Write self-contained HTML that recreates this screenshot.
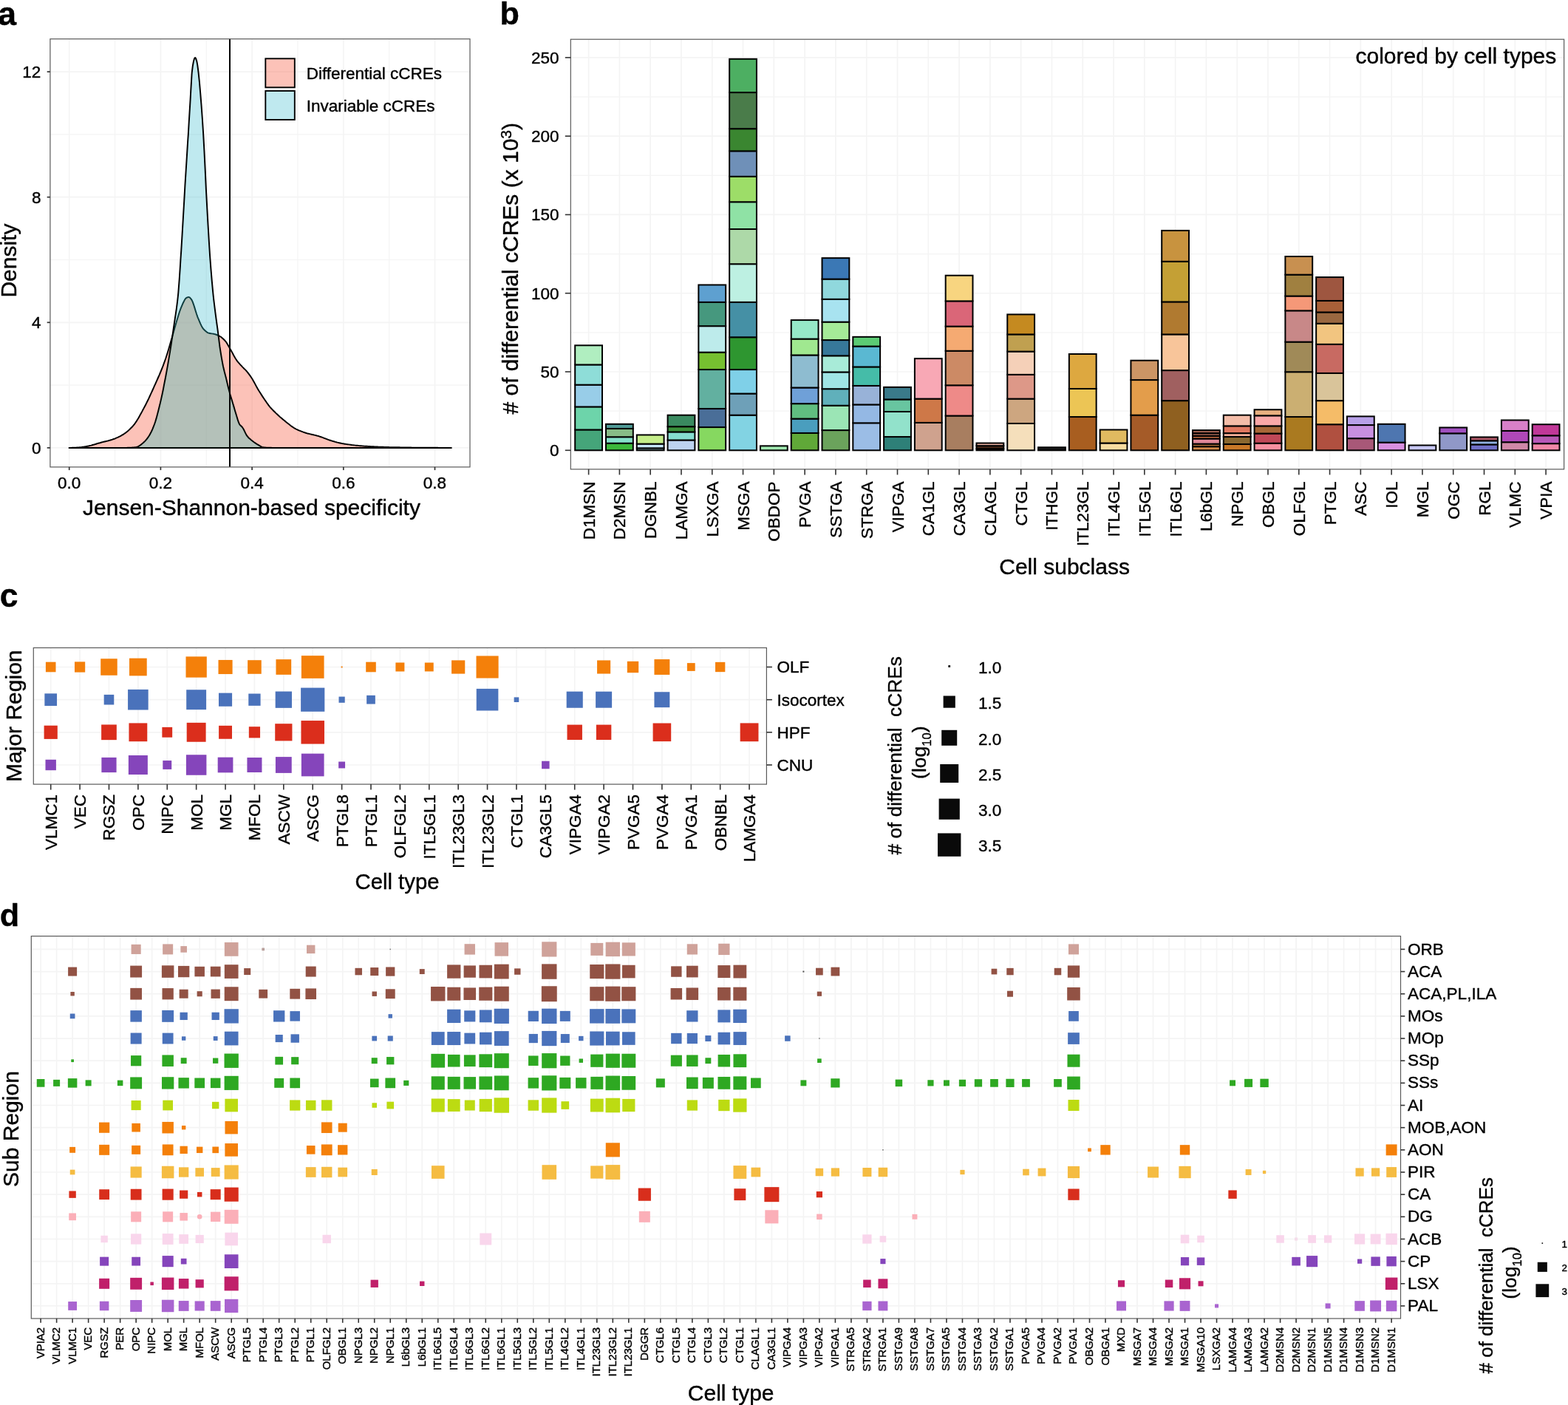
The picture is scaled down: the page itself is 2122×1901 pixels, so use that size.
<!DOCTYPE html>
<html lang="en"><head><meta charset="utf-8"><title>Differential cCREs figure</title>
<style>
html,body{margin:0;padding:0;background:#fff;}
body{width:2122px;height:1901px;overflow:hidden;}
svg{display:block;font-family:"Liberation Sans", sans-serif;}
svg text{stroke:#000;stroke-width:.4px;stroke-linejoin:round;}
</style></head>
<body>
<svg width="2122" height="1901" viewBox="0 0 2122 1901">
<rect width="2122" height="1901" fill="#fff"/>
<g id="panel-a">
<text x="-2.80" y="33.90" font-size="44.6" font-weight="bold" stroke="none">a</text>
<rect x="67.90" y="52.70" width="568.10" height="579.20" fill="#fff"/>
<line x1="93.70" y1="52.70" x2="93.70" y2="631.90" stroke="#f4f4f4" stroke-width="1.7"/>
<line x1="155.55" y1="52.70" x2="155.55" y2="631.90" stroke="#f4f4f4" stroke-width="1.2"/>
<line x1="217.40" y1="52.70" x2="217.40" y2="631.90" stroke="#f4f4f4" stroke-width="1.7"/>
<line x1="279.25" y1="52.70" x2="279.25" y2="631.90" stroke="#f4f4f4" stroke-width="1.2"/>
<line x1="341.10" y1="52.70" x2="341.10" y2="631.90" stroke="#f4f4f4" stroke-width="1.7"/>
<line x1="402.95" y1="52.70" x2="402.95" y2="631.90" stroke="#f4f4f4" stroke-width="1.2"/>
<line x1="464.80" y1="52.70" x2="464.80" y2="631.90" stroke="#f4f4f4" stroke-width="1.7"/>
<line x1="526.65" y1="52.70" x2="526.65" y2="631.90" stroke="#f4f4f4" stroke-width="1.2"/>
<line x1="588.50" y1="52.70" x2="588.50" y2="631.90" stroke="#f4f4f4" stroke-width="1.7"/>
<line x1="67.90" y1="605.90" x2="636.00" y2="605.90" stroke="#f4f4f4" stroke-width="1.7"/>
<line x1="67.90" y1="521.10" x2="636.00" y2="521.10" stroke="#f4f4f4" stroke-width="1.2"/>
<line x1="67.90" y1="436.30" x2="636.00" y2="436.30" stroke="#f4f4f4" stroke-width="1.7"/>
<line x1="67.90" y1="351.50" x2="636.00" y2="351.50" stroke="#f4f4f4" stroke-width="1.2"/>
<line x1="67.90" y1="266.70" x2="636.00" y2="266.70" stroke="#f4f4f4" stroke-width="1.7"/>
<line x1="67.90" y1="181.90" x2="636.00" y2="181.90" stroke="#f4f4f4" stroke-width="1.2"/>
<line x1="67.90" y1="97.10" x2="636.00" y2="97.10" stroke="#f4f4f4" stroke-width="1.7"/>
<path d="M93.7 605.9 L95.0 605.9 L96.3 605.9 L97.6 605.8 L98.9 605.8 L100.2 605.7 L101.5 605.7 L102.8 605.6 L104.1 605.5 L105.4 605.4 L106.1 605.4 L106.7 605.4 L107.9 605.2 L109.2 605.1 L110.5 605.0 L111.8 604.8 L113.1 604.6 L114.4 604.4 L115.7 604.2 L117.0 604.0 L118.0 603.8 L118.3 603.7 L119.6 603.5 L120.9 603.2 L122.2 602.9 L123.5 602.6 L124.8 602.2 L126.1 601.8 L127.4 601.5 L128.7 601.1 L130.0 600.7 L131.3 600.3 L132.6 599.9 L133.9 599.5 L135.2 599.2 L136.4 598.8 L137.7 598.5 L137.8 598.4 L139.0 598.1 L140.3 597.8 L141.6 597.5 L142.9 597.2 L144.2 596.9 L145.5 596.6 L146.8 596.3 L148.1 595.9 L149.4 595.5 L150.2 595.3 L150.7 595.1 L152.0 594.7 L153.3 594.2 L154.6 593.8 L155.9 593.3 L157.2 592.7 L158.5 592.2 L159.8 591.6 L161.1 590.9 L162.4 590.3 L163.7 589.6 L164.8 588.9 L164.9 588.9 L166.2 588.1 L167.5 587.3 L168.8 586.4 L170.1 585.4 L171.4 584.4 L172.7 583.4 L174.0 582.3 L175.3 581.1 L176.6 579.8 L177.9 578.5 L179.2 577.2 L179.7 576.6 L180.5 575.7 L181.8 574.1 L183.1 572.3 L184.4 570.4 L185.7 568.3 L187.0 566.2 L188.3 563.9 L189.6 561.6 L190.9 559.3 L192.2 556.9 L193.4 554.5 L194.3 552.9 L194.7 552.1 L196.0 549.7 L197.3 547.2 L198.6 544.6 L199.9 542.0 L201.2 539.3 L202.5 536.5 L203.8 533.7 L205.1 530.9 L206.4 528.0 L207.7 525.1 L209.0 522.2 L209.1 521.9 L210.3 519.3 L211.6 516.4 L212.9 513.5 L214.2 510.5 L215.5 507.6 L216.8 504.5 L218.1 501.4 L219.4 498.2 L220.7 494.9 L221.9 491.5 L223.2 488.0 L223.8 486.3 L224.5 484.3 L225.8 480.3 L227.1 476.1 L228.4 471.8 L229.7 467.3 L231.0 462.8 L232.3 458.3 L232.7 457.1 L233.6 453.8 L234.9 449.2 L236.2 444.5 L237.5 439.9 L238.6 436.3 L238.8 435.5 L240.1 431.2 L241.4 427.0 L242.7 422.8 L244.0 419.0 L245.3 415.6 L245.9 414.3 L246.6 412.7 L247.9 409.7 L249.2 407.1 L250.4 404.9 L251.7 403.4 L252.0 403.2 L253.0 402.7 L254.3 402.1 L255.5 402.0 L255.6 402.0 L256.9 402.7 L258.2 404.1 L258.8 404.9 L259.5 405.9 L260.8 408.7 L262.1 412.3 L263.4 416.4 L264.7 420.7 L266.0 424.8 L267.3 428.6 L268.0 430.4 L268.6 431.7 L269.9 434.8 L271.2 437.8 L272.5 440.6 L273.8 443.0 L275.1 444.9 L275.4 445.2 L276.4 446.3 L277.7 447.5 L278.9 448.6 L280.2 449.6 L281.5 450.3 L282.7 450.7 L282.8 450.7 L284.1 451.0 L285.4 451.3 L286.7 451.4 L288.0 451.6 L289.3 451.8 L290.1 452.0 L290.6 452.1 L291.9 452.5 L293.2 453.0 L294.5 453.5 L295.8 454.1 L297.1 454.8 L297.4 455.0 L298.4 455.5 L299.7 456.4 L301.0 457.5 L302.3 458.7 L303.6 460.0 L304.8 461.3 L304.9 461.4 L306.2 463.0 L307.4 465.0 L308.7 467.2 L310.0 469.5 L311.3 471.8 L312.2 473.2 L312.6 474.0 L313.9 476.4 L315.2 478.8 L316.5 481.3 L317.8 483.6 L319.1 485.7 L319.5 486.3 L320.4 487.6 L321.7 489.3 L323.0 490.9 L324.3 492.4 L325.6 493.8 L326.9 495.2 L326.9 495.2 L328.2 496.6 L329.5 497.9 L330.8 499.2 L332.1 500.4 L333.4 501.8 L334.3 502.9 L334.7 503.3 L335.9 504.9 L337.2 506.6 L338.5 508.4 L339.8 510.3 L341.1 512.3 L341.6 513.0 L342.4 514.4 L343.7 516.7 L345.0 519.1 L346.3 521.6 L347.6 524.0 L348.9 526.3 L349.0 526.4 L350.2 528.5 L351.5 530.5 L352.8 532.6 L354.1 534.6 L355.4 536.6 L356.4 538.1 L356.7 538.5 L358.0 540.5 L359.3 542.4 L360.6 544.3 L361.9 546.2 L363.2 547.9 L363.7 548.7 L364.4 549.5 L365.7 551.1 L367.0 552.5 L368.3 553.9 L369.6 555.2 L370.9 556.5 L371.1 556.7 L372.2 557.8 L373.5 559.1 L374.8 560.3 L376.1 561.5 L377.4 562.7 L378.7 563.9 L380.0 565.0 L381.3 566.1 L382.6 567.2 L383.9 568.3 L385.2 569.3 L385.8 569.9 L386.5 570.4 L387.8 571.4 L389.1 572.5 L390.4 573.5 L391.7 574.5 L392.9 575.5 L394.2 576.5 L395.5 577.4 L396.8 578.3 L398.1 579.2 L399.4 579.9 L400.5 580.5 L400.7 580.6 L402.0 581.2 L403.3 581.8 L404.6 582.4 L405.9 582.9 L407.2 583.4 L408.5 583.9 L409.8 584.4 L411.1 584.8 L412.4 585.3 L413.7 585.7 L415.0 586.1 L415.3 586.2 L416.3 586.5 L417.6 586.8 L418.9 587.1 L420.2 587.4 L421.4 587.7 L422.7 588.0 L424.0 588.3 L425.3 588.6 L426.6 588.9 L427.9 589.2 L429.2 589.6 L430.0 589.8 L430.5 589.9 L431.8 590.3 L433.1 590.8 L434.4 591.2 L435.7 591.7 L437.0 592.2 L438.3 592.7 L439.6 593.1 L440.9 593.6 L442.2 594.1 L443.5 594.6 L444.8 595.1 L446.1 595.5 L447.4 596.0 L448.7 596.4 L449.3 596.6 L449.9 596.7 L451.2 597.1 L452.5 597.5 L453.8 597.9 L455.1 598.2 L456.4 598.6 L457.7 598.9 L459.0 599.2 L460.3 599.5 L461.6 599.8 L462.9 600.1 L464.2 600.3 L464.8 600.4 L465.5 600.5 L466.8 600.7 L468.1 600.9 L469.4 601.1 L470.7 601.3 L472.0 601.4 L473.3 601.6 L474.6 601.8 L475.9 602.0 L477.2 602.1 L478.4 602.3 L479.7 602.4 L481.0 602.6 L482.3 602.7 L483.6 602.8 L484.9 602.9 L486.2 603.1 L487.5 603.2 L488.8 603.3 L490.1 603.4 L491.4 603.5 L492.7 603.6 L494.0 603.7 L495.3 603.8 L495.7 603.8 L496.6 603.8 L497.9 603.9 L499.2 604.0 L500.5 604.0 L501.8 604.1 L503.1 604.2 L504.4 604.2 L505.6 604.3 L506.9 604.4 L508.2 604.4 L509.5 604.5 L510.8 604.5 L512.1 604.6 L513.4 604.6 L514.7 604.7 L516.0 604.7 L517.3 604.8 L518.6 604.8 L519.9 604.9 L521.2 604.9 L522.5 604.9 L523.8 605.0 L525.1 605.0 L526.4 605.0 L526.6 605.1 L527.7 605.1 L529.0 605.1 L530.3 605.1 L531.6 605.2 L532.9 605.2 L534.1 605.2 L535.4 605.2 L536.7 605.3 L538.0 605.3 L539.3 605.3 L540.6 605.3 L541.9 605.4 L543.2 605.4 L544.5 605.4 L545.8 605.4 L547.1 605.4 L548.4 605.5 L549.7 605.5 L551.0 605.5 L552.3 605.5 L553.6 605.5 L554.9 605.5 L556.2 605.5 L557.5 605.6 L557.6 605.6 L558.8 605.6 L560.1 605.6 L561.4 605.6 L562.6 605.6 L563.9 605.6 L565.2 605.6 L566.5 605.6 L567.8 605.7 L569.1 605.7 L570.4 605.7 L571.7 605.7 L573.0 605.7 L574.3 605.7 L575.6 605.7 L576.9 605.7 L578.2 605.7 L579.5 605.8 L580.8 605.8 L582.1 605.8 L583.4 605.8 L584.7 605.8 L586.0 605.8 L587.3 605.8 L588.6 605.8 L589.9 605.8 L591.1 605.8 L592.4 605.8 L593.7 605.9 L595.0 605.9 L596.3 605.9 L597.6 605.9 L598.9 605.9 L600.2 605.9 L601.5 605.9 L602.8 605.9 L604.1 605.9 L605.4 605.9 L606.7 605.9 L608.0 605.9 L609.3 605.9 L610.6 605.9 Z" fill="#f76e55" fill-opacity="0.42" stroke="#000" stroke-width="1.95" stroke-linejoin="round"/>
<path d="M93.7 605.9 L95.0 605.9 L96.3 605.9 L97.6 605.9 L98.9 605.9 L100.2 605.9 L101.5 605.9 L102.8 605.9 L104.1 605.9 L105.4 605.9 L106.7 605.9 L107.9 605.9 L109.2 605.9 L110.5 605.9 L111.8 605.9 L113.1 605.9 L114.4 605.9 L115.7 605.9 L117.0 605.9 L118.3 605.9 L119.6 605.9 L120.9 605.9 L122.2 605.9 L123.5 605.9 L124.8 605.9 L126.1 605.9 L127.4 605.9 L128.7 605.9 L130.0 605.9 L131.3 605.9 L132.6 605.9 L133.9 605.9 L135.2 605.9 L136.4 605.9 L137.7 605.9 L139.0 605.9 L140.3 605.9 L141.6 605.9 L142.9 605.9 L144.2 605.9 L145.5 605.9 L146.8 605.9 L148.1 605.9 L149.4 605.9 L150.7 605.9 L152.0 605.9 L153.3 605.9 L154.6 605.9 L155.9 605.9 L157.2 605.9 L158.5 605.9 L159.8 605.9 L161.1 605.9 L162.4 605.9 L163.7 605.9 L164.9 605.9 L166.2 605.9 L167.5 605.9 L167.9 605.9 L168.8 605.9 L170.1 605.9 L171.4 605.9 L172.7 605.8 L174.0 605.8 L175.3 605.7 L176.6 605.6 L177.9 605.6 L179.2 605.5 L180.5 605.4 L181.8 605.3 L183.1 605.1 L184.0 605.1 L184.4 605.0 L185.7 604.7 L187.0 604.1 L188.3 603.4 L189.6 602.5 L190.9 601.6 L192.2 600.5 L193.4 599.4 L194.3 598.7 L194.7 598.3 L196.0 597.1 L197.3 595.7 L198.6 594.1 L199.9 592.4 L201.2 590.5 L201.7 589.8 L202.5 588.4 L203.8 586.1 L205.1 583.5 L206.4 580.6 L207.7 577.4 L209.0 574.0 L209.1 573.7 L210.3 570.2 L211.6 565.9 L212.9 561.1 L214.2 556.1 L215.5 550.8 L216.4 547.0 L216.8 545.5 L218.1 539.9 L219.4 534.0 L220.7 527.8 L221.9 521.4 L223.2 514.8 L223.8 511.8 L224.5 508.0 L225.8 500.9 L227.1 493.6 L228.4 485.9 L229.7 478.1 L231.0 470.1 L231.2 468.9 L232.3 461.7 L233.6 453.0 L234.9 444.0 L235.6 439.3 L236.2 435.1 L237.5 426.6 L238.8 417.8 L240.1 407.7 L240.9 400.3 L241.4 395.2 L242.7 378.1 L244.0 358.5 L244.4 351.5 L245.3 338.4 L246.6 316.8 L247.9 294.4 L249.2 272.2 L249.6 265.4 L250.4 251.0 L251.7 230.2 L253.0 209.6 L254.3 188.8 L254.8 181.9 L255.6 167.6 L256.9 146.1 L257.6 134.8 L258.2 123.6 L259.5 101.2 L259.8 97.5 L260.8 89.4 L261.7 84.4 L262.1 82.4 L263.0 79.3 L263.4 78.7 L264.1 78.0 L264.7 78.5 L265.1 79.3 L266.0 81.8 L266.6 84.4 L267.3 88.4 L268.5 97.5 L268.6 98.3 L269.9 111.0 L271.2 126.0 L271.9 134.8 L272.5 142.2 L273.8 160.2 L275.1 180.2 L275.2 181.9 L276.4 203.6 L277.7 230.0 L278.9 256.2 L279.4 265.4 L280.2 280.2 L281.5 303.7 L282.8 326.0 L284.1 346.2 L284.5 351.5 L285.4 363.6 L286.7 379.3 L288.0 393.4 L288.7 400.3 L289.3 405.8 L290.6 416.5 L291.6 424.4 L291.9 426.6 L293.2 436.3 L294.5 445.7 L295.2 451.1 L295.8 455.8 L297.1 466.4 L297.4 468.9 L298.4 475.3 L299.7 483.3 L301.0 490.6 L301.9 495.2 L302.3 497.0 L303.6 502.5 L304.9 507.5 L306.2 512.5 L306.3 513.0 L307.4 517.9 L308.7 523.3 L310.0 528.5 L310.7 530.9 L311.3 533.2 L312.6 537.6 L313.9 541.8 L315.1 545.7 L315.2 546.0 L316.5 550.4 L317.8 554.9 L319.1 559.2 L319.5 560.5 L320.4 563.5 L321.7 567.9 L323.0 571.7 L323.9 573.7 L324.3 574.3 L325.6 575.8 L326.9 577.0 L328.2 578.4 L328.4 578.8 L329.5 580.5 L330.8 583.1 L332.1 585.9 L333.4 588.4 L334.3 589.8 L334.7 590.2 L335.9 591.7 L337.2 593.0 L338.5 594.1 L339.8 595.2 L341.1 596.2 L341.6 596.6 L342.4 597.2 L343.7 598.2 L345.0 599.1 L346.3 600.0 L347.6 600.9 L348.9 601.6 L349.0 601.7 L350.2 602.4 L351.5 603.2 L352.8 604.0 L354.1 604.6 L355.4 605.1 L356.4 605.3 L356.7 605.3 L358.0 605.4 L359.3 605.5 L360.6 605.6 L361.9 605.6 L363.2 605.7 L364.4 605.8 L365.7 605.8 L367.0 605.8 L368.3 605.9 L369.6 605.9 L370.9 605.9 L372.0 605.9 L372.2 605.9 L373.5 605.9 L374.8 605.9 L376.1 605.9 L377.4 605.9 L378.7 605.9 L380.0 605.9 L381.3 605.9 L382.6 605.9 L383.9 605.9 L385.2 605.9 L386.5 605.9 L387.8 605.9 L389.1 605.9 L390.4 605.9 L391.7 605.9 L392.9 605.9 L394.2 605.9 L395.5 605.9 L396.8 605.9 L398.1 605.9 L399.4 605.9 L400.7 605.9 L402.0 605.9 L403.3 605.9 L404.6 605.9 L405.9 605.9 L407.2 605.9 L408.5 605.9 L409.8 605.9 L411.1 605.9 L412.4 605.9 L413.7 605.9 L415.0 605.9 L416.3 605.9 L417.6 605.9 L418.9 605.9 L420.2 605.9 L421.4 605.9 L422.7 605.9 L424.0 605.9 L425.3 605.9 L426.6 605.9 L427.9 605.9 L429.2 605.9 L430.5 605.9 L431.8 605.9 L433.1 605.9 L434.4 605.9 L435.7 605.9 L437.0 605.9 L438.3 605.9 L439.6 605.9 L440.9 605.9 L442.2 605.9 L443.5 605.9 L444.8 605.9 L446.1 605.9 L447.4 605.9 L448.7 605.9 L449.9 605.9 L451.2 605.9 L452.5 605.9 L453.8 605.9 L455.1 605.9 L456.4 605.9 L457.7 605.9 L459.0 605.9 L460.3 605.9 L461.6 605.9 L462.9 605.9 L464.2 605.9 L465.5 605.9 L466.8 605.9 L468.1 605.9 L469.4 605.9 L470.7 605.9 L472.0 605.9 L473.3 605.9 L474.6 605.9 L475.9 605.9 L477.2 605.9 L478.4 605.9 L479.7 605.9 L481.0 605.9 L482.3 605.9 L483.6 605.9 L484.9 605.9 L486.2 605.9 L487.5 605.9 L488.8 605.9 L490.1 605.9 L491.4 605.9 L492.7 605.9 L494.0 605.9 L495.3 605.9 L496.6 605.9 L497.9 605.9 L499.2 605.9 L500.5 605.9 L501.8 605.9 L503.1 605.9 L504.4 605.9 L505.6 605.9 L506.9 605.9 L508.2 605.9 L509.5 605.9 L510.8 605.9 L512.1 605.9 L513.4 605.9 L514.7 605.9 L516.0 605.9 L517.3 605.9 L518.6 605.9 L519.9 605.9 L521.2 605.9 L522.5 605.9 L523.8 605.9 L525.1 605.9 L526.4 605.9 L527.7 605.9 L529.0 605.9 L530.3 605.9 L531.6 605.9 L532.9 605.9 L534.1 605.9 L535.4 605.9 L536.7 605.9 L538.0 605.9 L539.3 605.9 L540.6 605.9 L541.9 605.9 L543.2 605.9 L544.5 605.9 L545.8 605.9 L547.1 605.9 L548.4 605.9 L549.7 605.9 L551.0 605.9 L552.3 605.9 L553.6 605.9 L554.9 605.9 L556.2 605.9 L557.5 605.9 L558.8 605.9 L560.1 605.9 L561.4 605.9 L562.6 605.9 L563.9 605.9 L565.2 605.9 L566.5 605.9 L567.8 605.9 L569.1 605.9 L570.4 605.9 L571.7 605.9 L573.0 605.9 L574.3 605.9 L575.6 605.9 L576.9 605.9 L578.2 605.9 L579.5 605.9 L580.8 605.9 L582.1 605.9 L583.4 605.9 L584.7 605.9 L586.0 605.9 L587.3 605.9 L588.6 605.9 L589.9 605.9 L591.1 605.9 L592.4 605.9 L593.7 605.9 L595.0 605.9 L596.3 605.9 L597.6 605.9 L598.9 605.9 L600.2 605.9 L601.5 605.9 L602.8 605.9 L604.1 605.9 L605.4 605.9 L606.7 605.9 L608.0 605.9 L609.3 605.9 L610.6 605.9 Z" fill="#30b8cc" fill-opacity="0.31" stroke="#000" stroke-width="1.95" stroke-linejoin="round"/>
<path d="M167.9 605.9 L168.3 605.9 L168.8 605.9 L169.2 605.9 L169.6 605.9 L170.0 605.9 L170.4 605.9 L170.9 605.9 L171.3 605.9 L171.7 605.9 L172.1 605.8 L172.6 605.8 L173.0 605.8 L173.4 605.8 L173.8 605.8 L174.2 605.8 L174.7 605.7 L175.1 605.7 L175.5 605.7 L175.9 605.7 L176.3 605.7 L176.8 605.6 L177.2 605.6 L177.6 605.6 L178.0 605.6 L178.5 605.5 L178.9 605.5 L179.3 605.5 L179.7 605.4 L180.1 605.4 L180.6 605.4 L181.0 605.3 L181.4 605.3 L181.8 605.3 L182.2 605.2 L182.7 605.2 L183.1 605.1 L183.5 605.1 L183.9 605.1 L184.4 605.0 L184.8 604.9 L185.2 604.8 L185.6 604.7 L186.0 604.5 L186.5 604.4 L186.9 604.2 L187.3 604.0 L187.7 603.7 L188.1 603.5 L188.6 603.2 L189.0 602.9 L189.4 602.6 L189.8 602.3 L190.3 602.0 L190.7 601.7 L191.1 601.4 L191.5 601.0 L191.9 600.7 L192.4 600.3 L192.8 600.0 L193.2 599.6 L193.6 599.3 L194.0 598.9 L194.5 598.6 L194.9 598.2 L195.3 597.8 L195.7 597.4 L196.2 597.0 L196.6 596.5 L197.0 596.1 L197.4 595.6 L197.8 595.1 L198.3 594.6 L198.7 594.1 L199.1 593.5 L199.5 592.9 L199.9 592.4 L200.4 591.8 L200.8 591.2 L201.2 590.5 L201.6 589.9 L202.1 589.2 L202.5 588.5 L202.9 587.8 L203.3 587.0 L203.7 586.2 L204.2 585.4 L204.6 584.6 L205.0 583.7 L205.4 582.8 L205.8 581.8 L206.3 580.9 L206.7 579.9 L207.1 578.9 L207.5 577.8 L208.0 576.7 L208.4 575.6 L208.8 574.5 L209.2 573.4 L209.6 572.2 L210.1 570.9 L210.5 569.6 L210.9 568.2 L211.3 566.8 L211.7 565.3 L212.2 563.8 L212.6 562.2 L213.0 560.6 L213.4 559.0 L213.9 557.4 L214.3 555.7 L214.7 554.0 L215.1 552.3 L215.5 550.5 L216.0 548.8 L216.4 547.1 L216.8 545.3 L217.2 543.5 L217.6 541.7 L218.1 539.8 L218.5 538.0 L218.9 536.0 L219.3 534.1 L219.8 532.1 L220.2 530.1 L220.6 528.1 L221.0 526.0 L221.4 524.0 L221.9 521.9 L222.3 519.7 L222.7 517.6 L223.1 515.4 L223.5 513.3 L224.0 511.1 L224.4 508.8 L224.8 506.6 L225.2 504.3 L225.7 501.9 L226.1 499.6 L226.5 497.2 L226.9 494.8 L227.3 492.3 L227.8 489.9 L228.2 487.4 L228.6 484.9 L229.0 482.3 L229.4 479.8 L229.9 477.2 L230.3 474.6 L230.7 472.0 L231.1 469.3 L231.6 466.6 L232.0 463.9 L232.4 461.2 L232.8 458.4 L233.2 455.5 L233.7 453.6 L234.1 452.1 L234.5 450.6 L234.9 449.1 L235.3 447.5 L235.8 446.0 L236.2 444.5 L236.6 443.0 L237.0 441.5 L237.5 440.0 L237.9 438.6 L238.3 437.1 L238.7 435.8 L239.1 434.4 L239.6 433.0 L240.0 431.6 L240.4 430.2 L240.8 428.8 L241.2 427.4 L241.7 426.0 L242.1 424.7 L242.5 423.4 L242.9 422.1 L243.4 420.8 L243.8 419.6 L244.2 418.4 L244.6 417.3 L245.0 416.2 L245.5 415.1 L245.9 414.2 L246.3 413.2 L246.7 412.3 L247.1 411.3 L247.6 410.4 L248.0 409.4 L248.4 408.5 L248.8 407.7 L249.3 406.9 L249.7 406.1 L250.1 405.4 L250.5 404.8 L250.9 404.2 L251.4 403.8 L251.8 403.4 L252.2 403.1 L252.6 402.9 L253.0 402.7 L253.5 402.5 L253.9 402.3 L254.3 402.1 L254.7 402.0 L255.2 402.0 L255.6 402.0 L256.0 402.1 L256.4 402.3 L256.8 402.6 L257.3 403.0 L257.7 403.5 L258.1 404.0 L258.5 404.5 L258.9 405.1 L259.4 405.7 L259.8 406.4 L260.2 407.3 L260.6 408.3 L261.1 409.3 L261.5 410.4 L261.9 411.7 L262.3 412.9 L262.7 414.2 L263.2 415.6 L263.6 417.0 L264.0 418.4 L264.4 419.8 L264.8 421.2 L265.3 422.5 L265.7 423.9 L266.1 425.2 L266.5 426.5 L267.0 427.7 L267.4 428.8 L267.8 429.9 L268.2 430.9 L268.6 431.9 L269.1 432.9 L269.5 433.9 L269.9 434.9 L270.3 435.9 L270.7 436.8 L271.2 437.8 L271.6 438.7 L272.0 439.6 L272.4 440.5 L272.9 441.3 L273.3 442.1 L273.7 442.9 L274.1 443.6 L274.5 444.2 L275.0 444.7 L275.4 445.2 L275.8 445.7 L276.2 446.1 L276.6 446.6 L277.1 447.0 L277.5 447.4 L277.9 447.8 L278.3 448.1 L278.8 448.5 L279.2 448.8 L279.6 449.1 L280.0 449.4 L280.4 449.7 L280.9 449.9 L281.3 450.2 L281.7 450.4 L282.1 450.5 L282.5 450.7 L283.0 450.8 L283.4 450.9 L283.8 451.0 L284.2 451.1 L284.7 451.1 L285.1 451.2 L285.5 451.3 L285.9 451.3 L286.3 451.4 L286.8 451.4 L287.2 451.5 L287.6 451.5 L288.0 451.6 L288.4 451.7 L288.9 451.7 L289.3 451.8 L289.7 451.9 L290.1 452.0 L290.6 452.1 L291.0 452.2 L291.4 452.3 L291.8 452.5 L292.2 452.6 L292.7 452.8 L293.1 452.9 L293.5 453.1 L293.9 453.3 L294.3 453.4 L294.8 453.6 L295.2 453.8 L295.6 454.4 L296.0 457.9 L296.5 461.4 L296.9 464.8 L297.3 468.0 L297.7 470.9 L298.1 473.7 L298.6 476.5 L299.0 479.1 L299.4 481.7 L299.8 484.2 L300.2 486.7 L300.7 489.0 L301.1 491.2 L301.5 493.4 L301.9 495.5 L302.4 497.4 L302.8 499.3 L303.2 501.0 L303.6 502.7 L304.0 504.4 L304.5 506.0 L304.9 507.6 L305.3 509.2 L305.7 510.8 L306.1 512.5 L306.6 514.2 L307.0 516.0 L307.4 517.7 L307.8 519.5 L308.3 521.2 L308.7 523.0 L309.1 524.7 L309.5 526.4 L309.9 528.1 L310.4 529.7 L310.8 531.3 L311.2 532.8 L311.6 534.2 L312.0 535.6 L312.5 537.0 L312.9 538.4 L313.3 539.8 L313.7 541.1 L314.2 542.5 L314.6 543.9 L315.0 545.3 L315.4 546.7 L315.8 548.1 L316.3 549.6 L316.7 551.0 L317.1 552.5 L317.5 553.9 L317.9 555.4 L318.4 556.8 L318.8 558.2 L319.2 559.6 L319.6 560.9 L320.1 562.3 L320.5 563.7 L320.9 565.2 L321.3 566.6 L321.7 568.0 L322.2 569.4 L322.6 570.6 L323.0 571.8 L323.4 572.8 L323.8 573.6 L324.3 574.2 L324.7 574.8 L325.1 575.3 L325.5 575.8 L326.0 576.2 L326.4 576.6 L326.8 576.9 L327.2 577.4 L327.6 577.8 L328.1 578.3 L328.5 578.9 L328.9 579.5 L329.3 580.2 L329.7 581.0 L330.2 581.9 L330.6 582.7 L331.0 583.6 L331.4 584.5 L331.9 585.4 L332.3 586.3 L332.7 587.2 L333.1 588.0 L333.5 588.7 L334.0 589.3 L334.4 589.9 L334.8 590.4 L335.2 590.9 L335.6 591.4 L336.1 591.8 L336.5 592.2 L336.9 592.7 L337.3 593.1 L337.8 593.4 L338.2 593.8 L338.6 594.2 L339.0 594.5 L339.4 594.9 L339.9 595.2 L340.3 595.5 L340.7 595.9 L341.1 596.2 L341.5 596.5 L342.0 596.9 L342.4 597.2 L342.8 597.5 L343.2 597.8 L343.7 598.2 L344.1 598.5 L344.5 598.8 L344.9 599.1 L345.3 599.4 L345.8 599.7 L346.2 599.9 L346.6 600.2 L347.0 600.5 L347.4 600.8 L347.9 601.0 L348.3 601.3 L348.7 601.5 L349.1 601.8 L349.6 602.0 L350.0 602.3 L350.4 602.5 L350.8 602.8 L351.2 603.1 L351.7 603.3 L352.1 603.6 L352.5 603.8 L352.9 604.1 L353.3 604.3 L353.8 604.5 L354.2 604.7 L354.6 604.8 L355.0 605.0 L355.5 605.1 L355.9 605.2 L356.3 605.3 L356.7 605.3 L357.1 605.3 L357.6 605.4 L358.0 605.4 L358.4 605.4 L358.8 605.5 L359.2 605.5 L359.7 605.5 L360.1 605.5 L360.5 605.6 L360.9 605.6 L361.4 605.6 L361.8 605.6 L362.2 605.7 L362.6 605.7 L363.0 605.7 L363.5 605.7 L363.9 605.7 L364.3 605.7 L364.7 605.8 L365.1 605.8 L365.6 605.8 L366.0 605.8 L366.4 605.8 L366.8 605.8 L367.3 605.8 L367.7 605.9 L368.1 605.9 L368.5 605.9 L368.9 605.9 L369.4 605.9 L369.8 605.9 L370.2 605.9 L370.6 605.9 L371.0 605.9 L371.5 605.9 L371.9 605.9 L372.3 605.9 L372.7 605.9 L373.2 605.9 L373.6 605.9 L374.0 605.9 L374.4 605.9 L374.8 605.9 L375.3 605.9 L375.7 605.9 L376.1 605.9 L376.5 605.9 L376.9 605.9 L377.4 605.9 L377.8 605.9 L378.2 605.9 Z" fill="#00ff64" fill-opacity="0.045" stroke="none"/>
<line x1="311.00" y1="52.70" x2="311.00" y2="631.90" stroke="#000" stroke-width="1.95"/>
<rect x="67.90" y="52.70" width="568.10" height="579.20" fill="none" stroke="#5a5a5a" stroke-width="1.2"/>
<line x1="63.70" y1="605.90" x2="67.90" y2="605.90" stroke="#333333" stroke-width="1.7"/>
<text x="55.40" y="613.80" font-size="22.5" text-anchor="end">0</text>
<line x1="63.70" y1="436.30" x2="67.90" y2="436.30" stroke="#333333" stroke-width="1.7"/>
<text x="55.40" y="444.20" font-size="22.5" text-anchor="end">4</text>
<line x1="63.70" y1="266.70" x2="67.90" y2="266.70" stroke="#333333" stroke-width="1.7"/>
<text x="55.40" y="274.60" font-size="22.5" text-anchor="end">8</text>
<line x1="63.70" y1="97.10" x2="67.90" y2="97.10" stroke="#333333" stroke-width="1.7"/>
<text x="55.40" y="105.00" font-size="22.5" text-anchor="end">12</text>
<line x1="93.70" y1="631.90" x2="93.70" y2="636.10" stroke="#333333" stroke-width="1.7"/>
<text x="93.70" y="660.80" font-size="22.5" text-anchor="middle">0.0</text>
<line x1="217.40" y1="631.90" x2="217.40" y2="636.10" stroke="#333333" stroke-width="1.7"/>
<text x="217.40" y="660.80" font-size="22.5" text-anchor="middle">0.2</text>
<line x1="341.10" y1="631.90" x2="341.10" y2="636.10" stroke="#333333" stroke-width="1.7"/>
<text x="341.10" y="660.80" font-size="22.5" text-anchor="middle">0.4</text>
<line x1="464.80" y1="631.90" x2="464.80" y2="636.10" stroke="#333333" stroke-width="1.7"/>
<text x="464.80" y="660.80" font-size="22.5" text-anchor="middle">0.6</text>
<line x1="588.50" y1="631.90" x2="588.50" y2="636.10" stroke="#333333" stroke-width="1.7"/>
<text x="588.50" y="660.80" font-size="22.5" text-anchor="middle">0.8</text>
<text x="340.50" y="696.80" font-size="30" text-anchor="middle">Jensen-Shannon-based specificity</text>
<text transform="translate(22.30 352.60) rotate(-90)" font-size="30" text-anchor="middle">Density</text>
<rect x="359.30" y="79.30" width="39.50" height="39.00" fill="#f76e55" stroke="#000" stroke-width="1.9" fill-opacity="0.42"/>
<rect x="359.30" y="123.00" width="39.50" height="39.00" fill="#30b8cc" stroke="#000" stroke-width="1.9" fill-opacity="0.31"/>
<text x="414.70" y="107.00" font-size="22.5">Differential cCREs</text>
<text x="414.70" y="150.80" font-size="22.5">Invariable cCREs</text>
</g>
<g id="panel-b">
<text x="676.40" y="33.00" font-size="43.2" font-weight="bold" stroke="none">b</text>
<rect x="772.30" y="53.20" width="1344.30" height="581.70" fill="#fff"/>
<line x1="796.60" y1="53.20" x2="796.60" y2="634.90" stroke="#f4f4f4" stroke-width="1.7"/>
<line x1="838.39" y1="53.20" x2="838.39" y2="634.90" stroke="#f4f4f4" stroke-width="1.7"/>
<line x1="880.18" y1="53.20" x2="880.18" y2="634.90" stroke="#f4f4f4" stroke-width="1.7"/>
<line x1="921.97" y1="53.20" x2="921.97" y2="634.90" stroke="#f4f4f4" stroke-width="1.7"/>
<line x1="963.76" y1="53.20" x2="963.76" y2="634.90" stroke="#f4f4f4" stroke-width="1.7"/>
<line x1="1005.55" y1="53.20" x2="1005.55" y2="634.90" stroke="#f4f4f4" stroke-width="1.7"/>
<line x1="1047.34" y1="53.20" x2="1047.34" y2="634.90" stroke="#f4f4f4" stroke-width="1.7"/>
<line x1="1089.13" y1="53.20" x2="1089.13" y2="634.90" stroke="#f4f4f4" stroke-width="1.7"/>
<line x1="1130.92" y1="53.20" x2="1130.92" y2="634.90" stroke="#f4f4f4" stroke-width="1.7"/>
<line x1="1172.71" y1="53.20" x2="1172.71" y2="634.90" stroke="#f4f4f4" stroke-width="1.7"/>
<line x1="1214.50" y1="53.20" x2="1214.50" y2="634.90" stroke="#f4f4f4" stroke-width="1.7"/>
<line x1="1256.29" y1="53.20" x2="1256.29" y2="634.90" stroke="#f4f4f4" stroke-width="1.7"/>
<line x1="1298.08" y1="53.20" x2="1298.08" y2="634.90" stroke="#f4f4f4" stroke-width="1.7"/>
<line x1="1339.87" y1="53.20" x2="1339.87" y2="634.90" stroke="#f4f4f4" stroke-width="1.7"/>
<line x1="1381.66" y1="53.20" x2="1381.66" y2="634.90" stroke="#f4f4f4" stroke-width="1.7"/>
<line x1="1423.45" y1="53.20" x2="1423.45" y2="634.90" stroke="#f4f4f4" stroke-width="1.7"/>
<line x1="1465.24" y1="53.20" x2="1465.24" y2="634.90" stroke="#f4f4f4" stroke-width="1.7"/>
<line x1="1507.03" y1="53.20" x2="1507.03" y2="634.90" stroke="#f4f4f4" stroke-width="1.7"/>
<line x1="1548.82" y1="53.20" x2="1548.82" y2="634.90" stroke="#f4f4f4" stroke-width="1.7"/>
<line x1="1590.61" y1="53.20" x2="1590.61" y2="634.90" stroke="#f4f4f4" stroke-width="1.7"/>
<line x1="1632.40" y1="53.20" x2="1632.40" y2="634.90" stroke="#f4f4f4" stroke-width="1.7"/>
<line x1="1674.19" y1="53.20" x2="1674.19" y2="634.90" stroke="#f4f4f4" stroke-width="1.7"/>
<line x1="1715.98" y1="53.20" x2="1715.98" y2="634.90" stroke="#f4f4f4" stroke-width="1.7"/>
<line x1="1757.77" y1="53.20" x2="1757.77" y2="634.90" stroke="#f4f4f4" stroke-width="1.7"/>
<line x1="1799.56" y1="53.20" x2="1799.56" y2="634.90" stroke="#f4f4f4" stroke-width="1.7"/>
<line x1="1841.35" y1="53.20" x2="1841.35" y2="634.90" stroke="#f4f4f4" stroke-width="1.7"/>
<line x1="1883.14" y1="53.20" x2="1883.14" y2="634.90" stroke="#f4f4f4" stroke-width="1.7"/>
<line x1="1924.93" y1="53.20" x2="1924.93" y2="634.90" stroke="#f4f4f4" stroke-width="1.7"/>
<line x1="1966.72" y1="53.20" x2="1966.72" y2="634.90" stroke="#f4f4f4" stroke-width="1.7"/>
<line x1="2008.51" y1="53.20" x2="2008.51" y2="634.90" stroke="#f4f4f4" stroke-width="1.7"/>
<line x1="2050.30" y1="53.20" x2="2050.30" y2="634.90" stroke="#f4f4f4" stroke-width="1.7"/>
<line x1="2092.09" y1="53.20" x2="2092.09" y2="634.90" stroke="#f4f4f4" stroke-width="1.7"/>
<line x1="772.30" y1="609.30" x2="2116.60" y2="609.30" stroke="#f4f4f4" stroke-width="1.7"/>
<line x1="772.30" y1="556.16" x2="2116.60" y2="556.16" stroke="#f4f4f4" stroke-width="1.2"/>
<line x1="772.30" y1="503.02" x2="2116.60" y2="503.02" stroke="#f4f4f4" stroke-width="1.7"/>
<line x1="772.30" y1="449.88" x2="2116.60" y2="449.88" stroke="#f4f4f4" stroke-width="1.2"/>
<line x1="772.30" y1="396.74" x2="2116.60" y2="396.74" stroke="#f4f4f4" stroke-width="1.7"/>
<line x1="772.30" y1="343.60" x2="2116.60" y2="343.60" stroke="#f4f4f4" stroke-width="1.2"/>
<line x1="772.30" y1="290.46" x2="2116.60" y2="290.46" stroke="#f4f4f4" stroke-width="1.7"/>
<line x1="772.30" y1="237.32" x2="2116.60" y2="237.32" stroke="#f4f4f4" stroke-width="1.2"/>
<line x1="772.30" y1="184.18" x2="2116.60" y2="184.18" stroke="#f4f4f4" stroke-width="1.7"/>
<line x1="772.30" y1="131.04" x2="2116.60" y2="131.04" stroke="#f4f4f4" stroke-width="1.2"/>
<line x1="772.30" y1="77.90" x2="2116.60" y2="77.90" stroke="#f4f4f4" stroke-width="1.7"/>
<rect x="778.20" y="581.45" width="36.80" height="27.85" fill="#45a57a" stroke="#000" stroke-width="2.0"/>
<rect x="778.20" y="550.42" width="36.80" height="31.03" fill="#6dd4aa" stroke="#000" stroke-width="2.0"/>
<rect x="778.20" y="520.66" width="36.80" height="29.76" fill="#98cde8" stroke="#000" stroke-width="2.0"/>
<rect x="778.20" y="493.45" width="36.80" height="27.21" fill="#8eddd8" stroke="#000" stroke-width="2.0"/>
<rect x="778.20" y="467.31" width="36.80" height="26.14" fill="#b0eec0" stroke="#000" stroke-width="2.0"/>
<rect x="819.99" y="599.73" width="36.80" height="9.57" fill="#3cb83c" stroke="#000" stroke-width="2.0"/>
<rect x="819.99" y="591.23" width="36.80" height="8.50" fill="#86e2cb" stroke="#000" stroke-width="2.0"/>
<rect x="819.99" y="579.97" width="36.80" height="11.27" fill="#87bc87" stroke="#000" stroke-width="2.0"/>
<rect x="819.99" y="573.80" width="36.80" height="6.16" fill="#4f9a96" stroke="#000" stroke-width="2.0"/>
<rect x="861.78" y="606.32" width="36.80" height="2.98" fill="#7fa0a8" stroke="#000" stroke-width="2.0"/>
<rect x="861.78" y="600.59" width="36.80" height="5.74" fill="#c5e5f8" stroke="#000" stroke-width="2.0"/>
<rect x="861.78" y="588.47" width="36.80" height="12.12" fill="#c5ee8a" stroke="#000" stroke-width="2.0"/>
<rect x="903.57" y="595.48" width="36.80" height="13.82" fill="#bdd3f0" stroke="#000" stroke-width="2.0"/>
<rect x="903.57" y="584.43" width="36.80" height="11.05" fill="#86ddd0" stroke="#000" stroke-width="2.0"/>
<rect x="903.57" y="577.20" width="36.80" height="7.23" fill="#3a8f3a" stroke="#000" stroke-width="2.0"/>
<rect x="903.57" y="561.69" width="36.80" height="15.52" fill="#3a8a60" stroke="#000" stroke-width="2.0"/>
<rect x="945.36" y="578.05" width="36.80" height="31.25" fill="#86d860" stroke="#000" stroke-width="2.0"/>
<rect x="945.36" y="552.97" width="36.80" height="25.08" fill="#4a6e98" stroke="#000" stroke-width="2.0"/>
<rect x="945.36" y="500.04" width="36.80" height="52.93" fill="#62b0a0" stroke="#000" stroke-width="2.0"/>
<rect x="945.36" y="476.66" width="36.80" height="23.38" fill="#76c030" stroke="#000" stroke-width="2.0"/>
<rect x="945.36" y="441.17" width="36.80" height="35.50" fill="#bdebeb" stroke="#000" stroke-width="2.0"/>
<rect x="945.36" y="408.86" width="36.80" height="32.31" fill="#46987e" stroke="#000" stroke-width="2.0"/>
<rect x="945.36" y="385.47" width="36.80" height="23.38" fill="#5ea0d0" stroke="#000" stroke-width="2.0"/>
<rect x="987.15" y="561.69" width="36.80" height="47.61" fill="#82d3e3" stroke="#000" stroke-width="2.0"/>
<rect x="987.15" y="532.57" width="36.80" height="29.12" fill="#6ea0b8" stroke="#000" stroke-width="2.0"/>
<rect x="987.15" y="500.04" width="36.80" height="32.52" fill="#7fd0e8" stroke="#000" stroke-width="2.0"/>
<rect x="987.15" y="456.26" width="36.80" height="43.79" fill="#2e9630" stroke="#000" stroke-width="2.0"/>
<rect x="987.15" y="408.86" width="36.80" height="47.40" fill="#4590a5" stroke="#000" stroke-width="2.0"/>
<rect x="987.15" y="357.20" width="36.80" height="51.65" fill="#bdf0e2" stroke="#000" stroke-width="2.0"/>
<rect x="987.15" y="310.02" width="36.80" height="47.19" fill="#add9a8" stroke="#000" stroke-width="2.0"/>
<rect x="987.15" y="273.24" width="36.80" height="36.77" fill="#8fe2a5" stroke="#000" stroke-width="2.0"/>
<rect x="987.15" y="238.81" width="36.80" height="34.43" fill="#9ddd68" stroke="#000" stroke-width="2.0"/>
<rect x="987.15" y="204.37" width="36.80" height="34.43" fill="#6f90b8" stroke="#000" stroke-width="2.0"/>
<rect x="987.15" y="174.19" width="36.80" height="30.18" fill="#3a8630" stroke="#000" stroke-width="2.0"/>
<rect x="987.15" y="125.09" width="36.80" height="49.10" fill="#4a7c4a" stroke="#000" stroke-width="2.0"/>
<rect x="987.15" y="79.81" width="36.80" height="45.28" fill="#4daf62" stroke="#000" stroke-width="2.0"/>
<rect x="1028.94" y="603.35" width="36.80" height="5.95" fill="#a0e8b0" stroke="#000" stroke-width="2.0"/>
<rect x="1070.73" y="585.92" width="36.80" height="23.38" fill="#60a838" stroke="#000" stroke-width="2.0"/>
<rect x="1070.73" y="566.58" width="36.80" height="19.34" fill="#4a9ebe" stroke="#000" stroke-width="2.0"/>
<rect x="1070.73" y="546.17" width="36.80" height="20.41" fill="#60be80" stroke="#000" stroke-width="2.0"/>
<rect x="1070.73" y="524.49" width="36.80" height="21.68" fill="#6fa0d8" stroke="#000" stroke-width="2.0"/>
<rect x="1070.73" y="480.49" width="36.80" height="44.00" fill="#8ebcd0" stroke="#000" stroke-width="2.0"/>
<rect x="1070.73" y="458.59" width="36.80" height="21.89" fill="#a0e890" stroke="#000" stroke-width="2.0"/>
<rect x="1070.73" y="433.09" width="36.80" height="25.51" fill="#96e8c8" stroke="#000" stroke-width="2.0"/>
<rect x="1112.52" y="582.09" width="36.80" height="27.21" fill="#6ba35c" stroke="#000" stroke-width="2.0"/>
<rect x="1112.52" y="548.72" width="36.80" height="33.37" fill="#9be5b5" stroke="#000" stroke-width="2.0"/>
<rect x="1112.52" y="526.19" width="36.80" height="22.53" fill="#60b0bb" stroke="#000" stroke-width="2.0"/>
<rect x="1112.52" y="503.45" width="36.80" height="22.74" fill="#a0e5e5" stroke="#000" stroke-width="2.0"/>
<rect x="1112.52" y="481.34" width="36.80" height="22.11" fill="#a8ebd8" stroke="#000" stroke-width="2.0"/>
<rect x="1112.52" y="460.08" width="36.80" height="21.26" fill="#37789a" stroke="#000" stroke-width="2.0"/>
<rect x="1112.52" y="435.64" width="36.80" height="24.44" fill="#a5ea98" stroke="#000" stroke-width="2.0"/>
<rect x="1112.52" y="404.82" width="36.80" height="30.82" fill="#a8e3f0" stroke="#000" stroke-width="2.0"/>
<rect x="1112.52" y="377.61" width="36.80" height="27.21" fill="#90d8dd" stroke="#000" stroke-width="2.0"/>
<rect x="1112.52" y="349.13" width="36.80" height="28.48" fill="#3b78b5" stroke="#000" stroke-width="2.0"/>
<rect x="1154.31" y="572.31" width="36.80" height="36.99" fill="#9bbde6" stroke="#000" stroke-width="2.0"/>
<rect x="1154.31" y="547.45" width="36.80" height="24.87" fill="#94b8e4" stroke="#000" stroke-width="2.0"/>
<rect x="1154.31" y="521.94" width="36.80" height="25.51" fill="#98b2d8" stroke="#000" stroke-width="2.0"/>
<rect x="1154.31" y="496.43" width="36.80" height="25.51" fill="#45bca8" stroke="#000" stroke-width="2.0"/>
<rect x="1154.31" y="468.59" width="36.80" height="27.85" fill="#5ab8d2" stroke="#000" stroke-width="2.0"/>
<rect x="1154.31" y="455.83" width="36.80" height="12.75" fill="#5ccb74" stroke="#000" stroke-width="2.0"/>
<rect x="1196.10" y="591.02" width="36.80" height="18.28" fill="#2e8078" stroke="#000" stroke-width="2.0"/>
<rect x="1196.10" y="557.01" width="36.80" height="34.01" fill="#92e2cb" stroke="#000" stroke-width="2.0"/>
<rect x="1196.10" y="540.43" width="36.80" height="16.58" fill="#68c5a0" stroke="#000" stroke-width="2.0"/>
<rect x="1196.10" y="523.85" width="36.80" height="16.58" fill="#3a7a8a" stroke="#000" stroke-width="2.0"/>
<rect x="1237.89" y="571.89" width="36.80" height="37.41" fill="#cfa28e" stroke="#000" stroke-width="2.0"/>
<rect x="1237.89" y="539.58" width="36.80" height="32.31" fill="#ce7848" stroke="#000" stroke-width="2.0"/>
<rect x="1237.89" y="485.16" width="36.80" height="54.42" fill="#f8a8b5" stroke="#000" stroke-width="2.0"/>
<rect x="1279.68" y="562.54" width="36.80" height="46.76" fill="#a87e60" stroke="#000" stroke-width="2.0"/>
<rect x="1279.68" y="521.30" width="36.80" height="41.24" fill="#ee8a88" stroke="#000" stroke-width="2.0"/>
<rect x="1279.68" y="474.75" width="36.80" height="46.55" fill="#cc8a65" stroke="#000" stroke-width="2.0"/>
<rect x="1279.68" y="441.59" width="36.80" height="33.16" fill="#f5aa72" stroke="#000" stroke-width="2.0"/>
<rect x="1279.68" y="407.37" width="36.80" height="34.22" fill="#da6678" stroke="#000" stroke-width="2.0"/>
<rect x="1279.68" y="372.72" width="36.80" height="34.65" fill="#f8d580" stroke="#000" stroke-width="2.0"/>
<rect x="1321.47" y="607.17" width="36.80" height="2.13" fill="#9a6850" stroke="#000" stroke-width="2.0"/>
<rect x="1321.47" y="603.14" width="36.80" height="4.04" fill="#4a2a1a" stroke="#000" stroke-width="2.0"/>
<rect x="1321.47" y="599.52" width="36.80" height="3.61" fill="#e8b0a0" stroke="#000" stroke-width="2.0"/>
<rect x="1363.26" y="572.95" width="36.80" height="36.35" fill="#f5dfbb" stroke="#000" stroke-width="2.0"/>
<rect x="1363.26" y="539.58" width="36.80" height="33.37" fill="#cda680" stroke="#000" stroke-width="2.0"/>
<rect x="1363.26" y="506.85" width="36.80" height="32.73" fill="#dd9888" stroke="#000" stroke-width="2.0"/>
<rect x="1363.26" y="475.60" width="36.80" height="31.25" fill="#f5d0b8" stroke="#000" stroke-width="2.0"/>
<rect x="1363.26" y="452.43" width="36.80" height="23.17" fill="#c0a050" stroke="#000" stroke-width="2.0"/>
<rect x="1363.26" y="425.44" width="36.80" height="27.00" fill="#c58a20" stroke="#000" stroke-width="2.0"/>
<rect x="1405.05" y="605.26" width="36.80" height="4.04" fill="#1a1a1a" stroke="#000" stroke-width="2.0"/>
<rect x="1446.84" y="564.02" width="36.80" height="45.28" fill="#a85e20" stroke="#000" stroke-width="2.0"/>
<rect x="1446.84" y="525.98" width="36.80" height="38.05" fill="#ecc555" stroke="#000" stroke-width="2.0"/>
<rect x="1446.84" y="479.00" width="36.80" height="46.98" fill="#dda840" stroke="#000" stroke-width="2.0"/>
<rect x="1488.63" y="599.52" width="36.80" height="9.78" fill="#f8dca0" stroke="#000" stroke-width="2.0"/>
<rect x="1488.63" y="581.45" width="36.80" height="18.07" fill="#e0ba60" stroke="#000" stroke-width="2.0"/>
<rect x="1530.42" y="561.69" width="36.80" height="47.61" fill="#a55b28" stroke="#000" stroke-width="2.0"/>
<rect x="1530.42" y="514.07" width="36.80" height="47.61" fill="#e39d4b" stroke="#000" stroke-width="2.0"/>
<rect x="1530.42" y="487.72" width="36.80" height="26.36" fill="#cc9565" stroke="#000" stroke-width="2.0"/>
<rect x="1572.21" y="542.13" width="36.80" height="67.17" fill="#8f6020" stroke="#000" stroke-width="2.0"/>
<rect x="1572.21" y="501.11" width="36.80" height="41.02" fill="#a06060" stroke="#000" stroke-width="2.0"/>
<rect x="1572.21" y="452.43" width="36.80" height="48.68" fill="#f8c59a" stroke="#000" stroke-width="2.0"/>
<rect x="1572.21" y="408.43" width="36.80" height="44.00" fill="#b07a30" stroke="#000" stroke-width="2.0"/>
<rect x="1572.21" y="353.80" width="36.80" height="54.63" fill="#c4a035" stroke="#000" stroke-width="2.0"/>
<rect x="1572.21" y="311.93" width="36.80" height="41.87" fill="#c8933f" stroke="#000" stroke-width="2.0"/>
<rect x="1614.00" y="604.20" width="36.80" height="5.10" fill="#d08848" stroke="#000" stroke-width="2.0"/>
<rect x="1614.00" y="600.59" width="36.80" height="3.61" fill="#b07038" stroke="#000" stroke-width="2.0"/>
<rect x="1614.00" y="593.57" width="36.80" height="7.01" fill="#e08898" stroke="#000" stroke-width="2.0"/>
<rect x="1614.00" y="589.96" width="36.80" height="3.61" fill="#c06840" stroke="#000" stroke-width="2.0"/>
<rect x="1614.00" y="586.13" width="36.80" height="3.83" fill="#905848" stroke="#000" stroke-width="2.0"/>
<rect x="1614.00" y="582.09" width="36.80" height="4.04" fill="#a06050" stroke="#000" stroke-width="2.0"/>
<rect x="1655.79" y="601.01" width="36.80" height="8.29" fill="#c87828" stroke="#000" stroke-width="2.0"/>
<rect x="1655.79" y="591.02" width="36.80" height="9.99" fill="#8a6830" stroke="#000" stroke-width="2.0"/>
<rect x="1655.79" y="586.13" width="36.80" height="4.89" fill="#f5b09a" stroke="#000" stroke-width="2.0"/>
<rect x="1655.79" y="576.35" width="36.80" height="9.78" fill="#e07860" stroke="#000" stroke-width="2.0"/>
<rect x="1655.79" y="561.69" width="36.80" height="14.67" fill="#f3bca8" stroke="#000" stroke-width="2.0"/>
<rect x="1697.58" y="599.73" width="36.80" height="9.57" fill="#f890a0" stroke="#000" stroke-width="2.0"/>
<rect x="1697.58" y="586.56" width="36.80" height="13.18" fill="#c04858" stroke="#000" stroke-width="2.0"/>
<rect x="1697.58" y="576.35" width="36.80" height="10.20" fill="#a86838" stroke="#000" stroke-width="2.0"/>
<rect x="1697.58" y="562.32" width="36.80" height="14.03" fill="#faa8a8" stroke="#000" stroke-width="2.0"/>
<rect x="1697.58" y="554.25" width="36.80" height="8.08" fill="#e8b080" stroke="#000" stroke-width="2.0"/>
<rect x="1739.37" y="564.02" width="36.80" height="45.28" fill="#aa7a20" stroke="#000" stroke-width="2.0"/>
<rect x="1739.37" y="503.23" width="36.80" height="60.79" fill="#cbaf72" stroke="#000" stroke-width="2.0"/>
<rect x="1739.37" y="462.63" width="36.80" height="40.60" fill="#a08a58" stroke="#000" stroke-width="2.0"/>
<rect x="1739.37" y="420.33" width="36.80" height="42.30" fill="#c88888" stroke="#000" stroke-width="2.0"/>
<rect x="1739.37" y="400.57" width="36.80" height="19.77" fill="#f59878" stroke="#000" stroke-width="2.0"/>
<rect x="1739.37" y="371.66" width="36.80" height="28.91" fill="#a08040" stroke="#000" stroke-width="2.0"/>
<rect x="1739.37" y="347.00" width="36.80" height="24.66" fill="#c89050" stroke="#000" stroke-width="2.0"/>
<rect x="1781.16" y="574.23" width="36.80" height="35.07" fill="#b05040" stroke="#000" stroke-width="2.0"/>
<rect x="1781.16" y="542.13" width="36.80" height="32.10" fill="#f5bc68" stroke="#000" stroke-width="2.0"/>
<rect x="1781.16" y="504.93" width="36.80" height="37.20" fill="#d9c49a" stroke="#000" stroke-width="2.0"/>
<rect x="1781.16" y="465.82" width="36.80" height="39.11" fill="#c86a62" stroke="#000" stroke-width="2.0"/>
<rect x="1781.16" y="437.76" width="36.80" height="28.06" fill="#f2c580" stroke="#000" stroke-width="2.0"/>
<rect x="1781.16" y="422.46" width="36.80" height="15.30" fill="#9a6840" stroke="#000" stroke-width="2.0"/>
<rect x="1781.16" y="406.94" width="36.80" height="15.52" fill="#a86038" stroke="#000" stroke-width="2.0"/>
<rect x="1781.16" y="375.06" width="36.80" height="31.88" fill="#9e5640" stroke="#000" stroke-width="2.0"/>
<rect x="1822.95" y="593.15" width="36.80" height="16.15" fill="#a85878" stroke="#000" stroke-width="2.0"/>
<rect x="1822.95" y="575.08" width="36.80" height="18.07" fill="#c890e0" stroke="#000" stroke-width="2.0"/>
<rect x="1822.95" y="563.39" width="36.80" height="11.69" fill="#b8a0e8" stroke="#000" stroke-width="2.0"/>
<rect x="1864.74" y="598.67" width="36.80" height="10.63" fill="#d890e0" stroke="#000" stroke-width="2.0"/>
<rect x="1864.74" y="573.80" width="36.80" height="24.87" fill="#4e76b0" stroke="#000" stroke-width="2.0"/>
<rect x="1906.53" y="602.50" width="36.80" height="6.80" fill="#c8c8f5" stroke="#000" stroke-width="2.0"/>
<rect x="1948.32" y="586.34" width="36.80" height="22.96" fill="#9098c8" stroke="#000" stroke-width="2.0"/>
<rect x="1948.32" y="578.48" width="36.80" height="7.86" fill="#a050c0" stroke="#000" stroke-width="2.0"/>
<rect x="1990.11" y="601.44" width="36.80" height="7.86" fill="#7070c8" stroke="#000" stroke-width="2.0"/>
<rect x="1990.11" y="596.33" width="36.80" height="5.10" fill="#90b0e0" stroke="#000" stroke-width="2.0"/>
<rect x="1990.11" y="591.44" width="36.80" height="4.89" fill="#b05868" stroke="#000" stroke-width="2.0"/>
<rect x="2031.90" y="598.25" width="36.80" height="11.05" fill="#d088a8" stroke="#000" stroke-width="2.0"/>
<rect x="2031.90" y="582.94" width="36.80" height="15.30" fill="#b048b8" stroke="#000" stroke-width="2.0"/>
<rect x="2031.90" y="568.49" width="36.80" height="14.45" fill="#d880c8" stroke="#000" stroke-width="2.0"/>
<rect x="2073.69" y="600.16" width="36.80" height="9.14" fill="#f088a8" stroke="#000" stroke-width="2.0"/>
<rect x="2073.69" y="589.32" width="36.80" height="10.84" fill="#b858b8" stroke="#000" stroke-width="2.0"/>
<rect x="2073.69" y="574.23" width="36.80" height="15.09" fill="#c03898" stroke="#000" stroke-width="2.0"/>
<rect x="772.30" y="53.20" width="1344.30" height="581.70" fill="none" stroke="#5a5a5a" stroke-width="1.2"/>
<line x1="764.80" y1="609.30" x2="772.30" y2="609.30" stroke="#333333" stroke-width="1.6"/>
<text x="756.50" y="617.30" font-size="22.5" text-anchor="end">0</text>
<line x1="764.80" y1="503.02" x2="772.30" y2="503.02" stroke="#333333" stroke-width="1.6"/>
<text x="756.50" y="511.02" font-size="22.5" text-anchor="end">50</text>
<line x1="764.80" y1="396.74" x2="772.30" y2="396.74" stroke="#333333" stroke-width="1.6"/>
<text x="756.50" y="404.74" font-size="22.5" text-anchor="end">100</text>
<line x1="764.80" y1="290.46" x2="772.30" y2="290.46" stroke="#333333" stroke-width="1.6"/>
<text x="756.50" y="298.46" font-size="22.5" text-anchor="end">150</text>
<line x1="764.80" y1="184.18" x2="772.30" y2="184.18" stroke="#333333" stroke-width="1.6"/>
<text x="756.50" y="192.18" font-size="22.5" text-anchor="end">200</text>
<line x1="764.80" y1="77.90" x2="772.30" y2="77.90" stroke="#333333" stroke-width="1.6"/>
<text x="756.50" y="85.90" font-size="22.5" text-anchor="end">250</text>
<line x1="796.60" y1="634.90" x2="796.60" y2="642.40" stroke="#333333" stroke-width="1.6"/>
<text transform="translate(804.60 651.50) rotate(-90)" font-size="22.5" text-anchor="end">D1MSN</text>
<line x1="838.39" y1="634.90" x2="838.39" y2="642.40" stroke="#333333" stroke-width="1.6"/>
<text transform="translate(846.39 651.50) rotate(-90)" font-size="22.5" text-anchor="end">D2MSN</text>
<line x1="880.18" y1="634.90" x2="880.18" y2="642.40" stroke="#333333" stroke-width="1.6"/>
<text transform="translate(888.18 651.50) rotate(-90)" font-size="22.5" text-anchor="end">DGNBL</text>
<line x1="921.97" y1="634.90" x2="921.97" y2="642.40" stroke="#333333" stroke-width="1.6"/>
<text transform="translate(929.97 651.50) rotate(-90)" font-size="22.5" text-anchor="end">LAMGA</text>
<line x1="963.76" y1="634.90" x2="963.76" y2="642.40" stroke="#333333" stroke-width="1.6"/>
<text transform="translate(971.76 651.50) rotate(-90)" font-size="22.5" text-anchor="end">LSXGA</text>
<line x1="1005.55" y1="634.90" x2="1005.55" y2="642.40" stroke="#333333" stroke-width="1.6"/>
<text transform="translate(1013.55 651.50) rotate(-90)" font-size="22.5" text-anchor="end">MSGA</text>
<line x1="1047.34" y1="634.90" x2="1047.34" y2="642.40" stroke="#333333" stroke-width="1.6"/>
<text transform="translate(1055.34 651.50) rotate(-90)" font-size="22.5" text-anchor="end">OBDOP</text>
<line x1="1089.13" y1="634.90" x2="1089.13" y2="642.40" stroke="#333333" stroke-width="1.6"/>
<text transform="translate(1097.13 651.50) rotate(-90)" font-size="22.5" text-anchor="end">PVGA</text>
<line x1="1130.92" y1="634.90" x2="1130.92" y2="642.40" stroke="#333333" stroke-width="1.6"/>
<text transform="translate(1138.92 651.50) rotate(-90)" font-size="22.5" text-anchor="end">SSTGA</text>
<line x1="1172.71" y1="634.90" x2="1172.71" y2="642.40" stroke="#333333" stroke-width="1.6"/>
<text transform="translate(1180.71 651.50) rotate(-90)" font-size="22.5" text-anchor="end">STRGA</text>
<line x1="1214.50" y1="634.90" x2="1214.50" y2="642.40" stroke="#333333" stroke-width="1.6"/>
<text transform="translate(1222.50 651.50) rotate(-90)" font-size="22.5" text-anchor="end">VIPGA</text>
<line x1="1256.29" y1="634.90" x2="1256.29" y2="642.40" stroke="#333333" stroke-width="1.6"/>
<text transform="translate(1264.29 651.50) rotate(-90)" font-size="22.5" text-anchor="end">CA1GL</text>
<line x1="1298.08" y1="634.90" x2="1298.08" y2="642.40" stroke="#333333" stroke-width="1.6"/>
<text transform="translate(1306.08 651.50) rotate(-90)" font-size="22.5" text-anchor="end">CA3GL</text>
<line x1="1339.87" y1="634.90" x2="1339.87" y2="642.40" stroke="#333333" stroke-width="1.6"/>
<text transform="translate(1347.87 651.50) rotate(-90)" font-size="22.5" text-anchor="end">CLAGL</text>
<line x1="1381.66" y1="634.90" x2="1381.66" y2="642.40" stroke="#333333" stroke-width="1.6"/>
<text transform="translate(1389.66 651.50) rotate(-90)" font-size="22.5" text-anchor="end">CTGL</text>
<line x1="1423.45" y1="634.90" x2="1423.45" y2="642.40" stroke="#333333" stroke-width="1.6"/>
<text transform="translate(1431.45 651.50) rotate(-90)" font-size="22.5" text-anchor="end">ITHGL</text>
<line x1="1465.24" y1="634.90" x2="1465.24" y2="642.40" stroke="#333333" stroke-width="1.6"/>
<text transform="translate(1473.24 651.50) rotate(-90)" font-size="22.5" text-anchor="end">ITL23GL</text>
<line x1="1507.03" y1="634.90" x2="1507.03" y2="642.40" stroke="#333333" stroke-width="1.6"/>
<text transform="translate(1515.03 651.50) rotate(-90)" font-size="22.5" text-anchor="end">ITL4GL</text>
<line x1="1548.82" y1="634.90" x2="1548.82" y2="642.40" stroke="#333333" stroke-width="1.6"/>
<text transform="translate(1556.82 651.50) rotate(-90)" font-size="22.5" text-anchor="end">ITL5GL</text>
<line x1="1590.61" y1="634.90" x2="1590.61" y2="642.40" stroke="#333333" stroke-width="1.6"/>
<text transform="translate(1598.61 651.50) rotate(-90)" font-size="22.5" text-anchor="end">ITL6GL</text>
<line x1="1632.40" y1="634.90" x2="1632.40" y2="642.40" stroke="#333333" stroke-width="1.6"/>
<text transform="translate(1640.40 651.50) rotate(-90)" font-size="22.5" text-anchor="end">L6bGL</text>
<line x1="1674.19" y1="634.90" x2="1674.19" y2="642.40" stroke="#333333" stroke-width="1.6"/>
<text transform="translate(1682.19 651.50) rotate(-90)" font-size="22.5" text-anchor="end">NPGL</text>
<line x1="1715.98" y1="634.90" x2="1715.98" y2="642.40" stroke="#333333" stroke-width="1.6"/>
<text transform="translate(1723.98 651.50) rotate(-90)" font-size="22.5" text-anchor="end">OBGL</text>
<line x1="1757.77" y1="634.90" x2="1757.77" y2="642.40" stroke="#333333" stroke-width="1.6"/>
<text transform="translate(1765.77 651.50) rotate(-90)" font-size="22.5" text-anchor="end">OLFGL</text>
<line x1="1799.56" y1="634.90" x2="1799.56" y2="642.40" stroke="#333333" stroke-width="1.6"/>
<text transform="translate(1807.56 651.50) rotate(-90)" font-size="22.5" text-anchor="end">PTGL</text>
<line x1="1841.35" y1="634.90" x2="1841.35" y2="642.40" stroke="#333333" stroke-width="1.6"/>
<text transform="translate(1849.35 651.50) rotate(-90)" font-size="22.5" text-anchor="end">ASC</text>
<line x1="1883.14" y1="634.90" x2="1883.14" y2="642.40" stroke="#333333" stroke-width="1.6"/>
<text transform="translate(1891.14 651.50) rotate(-90)" font-size="22.5" text-anchor="end">IOL</text>
<line x1="1924.93" y1="634.90" x2="1924.93" y2="642.40" stroke="#333333" stroke-width="1.6"/>
<text transform="translate(1932.93 651.50) rotate(-90)" font-size="22.5" text-anchor="end">MGL</text>
<line x1="1966.72" y1="634.90" x2="1966.72" y2="642.40" stroke="#333333" stroke-width="1.6"/>
<text transform="translate(1974.72 651.50) rotate(-90)" font-size="22.5" text-anchor="end">OGC</text>
<line x1="2008.51" y1="634.90" x2="2008.51" y2="642.40" stroke="#333333" stroke-width="1.6"/>
<text transform="translate(2016.51 651.50) rotate(-90)" font-size="22.5" text-anchor="end">RGL</text>
<line x1="2050.30" y1="634.90" x2="2050.30" y2="642.40" stroke="#333333" stroke-width="1.6"/>
<text transform="translate(2058.30 651.50) rotate(-90)" font-size="22.5" text-anchor="end">VLMC</text>
<line x1="2092.09" y1="634.90" x2="2092.09" y2="642.40" stroke="#333333" stroke-width="1.6"/>
<text transform="translate(2100.09 651.50) rotate(-90)" font-size="22.5" text-anchor="end">VPIA</text>
<text x="1440.60" y="776.50" font-size="30" text-anchor="middle">Cell subclass</text>
<text transform="translate(701.00 363.30) rotate(-90)" font-size="30" text-anchor="middle"># of differential cCREs (x 10<tspan font-size="21" dy="-9.5">3</tspan><tspan dy="9.5">)</tspan></text>
<text x="2106.30" y="85.80" font-size="30" text-anchor="end">colored by cell types</text>
</g>
<g id="panel-c">
<text x="-0.20" y="821.40" font-size="44.4" font-weight="bold" stroke="none">c</text>
<rect x="45.30" y="876.50" width="992.10" height="184.60" fill="#fff"/>
<line x1="68.70" y1="876.50" x2="68.70" y2="1061.10" stroke="#f4f4f4" stroke-width="1.7"/>
<line x1="108.09" y1="876.50" x2="108.09" y2="1061.10" stroke="#f4f4f4" stroke-width="1.7"/>
<line x1="147.48" y1="876.50" x2="147.48" y2="1061.10" stroke="#f4f4f4" stroke-width="1.7"/>
<line x1="186.87" y1="876.50" x2="186.87" y2="1061.10" stroke="#f4f4f4" stroke-width="1.7"/>
<line x1="226.26" y1="876.50" x2="226.26" y2="1061.10" stroke="#f4f4f4" stroke-width="1.7"/>
<line x1="265.65" y1="876.50" x2="265.65" y2="1061.10" stroke="#f4f4f4" stroke-width="1.7"/>
<line x1="305.04" y1="876.50" x2="305.04" y2="1061.10" stroke="#f4f4f4" stroke-width="1.7"/>
<line x1="344.43" y1="876.50" x2="344.43" y2="1061.10" stroke="#f4f4f4" stroke-width="1.7"/>
<line x1="383.82" y1="876.50" x2="383.82" y2="1061.10" stroke="#f4f4f4" stroke-width="1.7"/>
<line x1="423.21" y1="876.50" x2="423.21" y2="1061.10" stroke="#f4f4f4" stroke-width="1.7"/>
<line x1="462.60" y1="876.50" x2="462.60" y2="1061.10" stroke="#f4f4f4" stroke-width="1.7"/>
<line x1="501.99" y1="876.50" x2="501.99" y2="1061.10" stroke="#f4f4f4" stroke-width="1.7"/>
<line x1="541.38" y1="876.50" x2="541.38" y2="1061.10" stroke="#f4f4f4" stroke-width="1.7"/>
<line x1="580.77" y1="876.50" x2="580.77" y2="1061.10" stroke="#f4f4f4" stroke-width="1.7"/>
<line x1="620.16" y1="876.50" x2="620.16" y2="1061.10" stroke="#f4f4f4" stroke-width="1.7"/>
<line x1="659.55" y1="876.50" x2="659.55" y2="1061.10" stroke="#f4f4f4" stroke-width="1.7"/>
<line x1="698.94" y1="876.50" x2="698.94" y2="1061.10" stroke="#f4f4f4" stroke-width="1.7"/>
<line x1="738.33" y1="876.50" x2="738.33" y2="1061.10" stroke="#f4f4f4" stroke-width="1.7"/>
<line x1="777.72" y1="876.50" x2="777.72" y2="1061.10" stroke="#f4f4f4" stroke-width="1.7"/>
<line x1="817.11" y1="876.50" x2="817.11" y2="1061.10" stroke="#f4f4f4" stroke-width="1.7"/>
<line x1="856.50" y1="876.50" x2="856.50" y2="1061.10" stroke="#f4f4f4" stroke-width="1.7"/>
<line x1="895.89" y1="876.50" x2="895.89" y2="1061.10" stroke="#f4f4f4" stroke-width="1.7"/>
<line x1="935.28" y1="876.50" x2="935.28" y2="1061.10" stroke="#f4f4f4" stroke-width="1.7"/>
<line x1="974.67" y1="876.50" x2="974.67" y2="1061.10" stroke="#f4f4f4" stroke-width="1.7"/>
<line x1="1014.06" y1="876.50" x2="1014.06" y2="1061.10" stroke="#f4f4f4" stroke-width="1.7"/>
<line x1="45.30" y1="902.50" x2="1037.40" y2="902.50" stroke="#f4f4f4" stroke-width="1.7"/>
<line x1="45.30" y1="946.70" x2="1037.40" y2="946.70" stroke="#f4f4f4" stroke-width="1.7"/>
<line x1="45.30" y1="990.80" x2="1037.40" y2="990.80" stroke="#f4f4f4" stroke-width="1.7"/>
<line x1="45.30" y1="1035.00" x2="1037.40" y2="1035.00" stroke="#f4f4f4" stroke-width="1.7"/>
<rect x="61.90" y="895.70" width="13.60" height="13.60" fill="#f4800a"/>
<rect x="100.99" y="895.40" width="14.20" height="14.20" fill="#f4800a"/>
<rect x="136.23" y="891.25" width="22.50" height="22.50" fill="#f4800a"/>
<rect x="175.02" y="890.65" width="23.70" height="23.70" fill="#f4800a"/>
<rect x="251.50" y="888.35" width="28.30" height="28.30" fill="#f4800a"/>
<rect x="295.49" y="892.95" width="19.10" height="19.10" fill="#f4800a"/>
<rect x="335.13" y="893.20" width="18.60" height="18.60" fill="#f4800a"/>
<rect x="373.47" y="892.15" width="20.70" height="20.70" fill="#f4800a"/>
<rect x="407.86" y="887.15" width="30.70" height="30.70" fill="#f4800a"/>
<rect x="461.60" y="901.50" width="2.00" height="2.00" fill="#f4800a"/>
<rect x="495.19" y="895.70" width="13.60" height="13.60" fill="#f4800a"/>
<rect x="535.38" y="896.50" width="12.00" height="12.00" fill="#f4800a"/>
<rect x="574.82" y="896.55" width="11.90" height="11.90" fill="#f4800a"/>
<rect x="611.06" y="893.40" width="18.20" height="18.20" fill="#f4800a"/>
<rect x="644.50" y="887.45" width="30.10" height="30.10" fill="#f4800a"/>
<rect x="808.06" y="893.45" width="18.10" height="18.10" fill="#f4800a"/>
<rect x="848.80" y="894.80" width="15.40" height="15.40" fill="#f4800a"/>
<rect x="885.44" y="892.05" width="20.90" height="20.90" fill="#f4800a"/>
<rect x="929.88" y="897.10" width="10.80" height="10.80" fill="#f4800a"/>
<rect x="968.02" y="895.85" width="13.30" height="13.30" fill="#f4800a"/>
<rect x="60.35" y="938.35" width="16.70" height="16.70" fill="#4a72bb"/>
<rect x="140.68" y="939.90" width="13.60" height="13.60" fill="#4a72bb"/>
<rect x="173.07" y="932.90" width="27.60" height="27.60" fill="#4a72bb"/>
<rect x="252.20" y="933.25" width="26.90" height="26.90" fill="#4a72bb"/>
<rect x="295.99" y="937.65" width="18.10" height="18.10" fill="#4a72bb"/>
<rect x="336.28" y="938.55" width="16.30" height="16.30" fill="#4a72bb"/>
<rect x="372.67" y="935.55" width="22.30" height="22.30" fill="#4a72bb"/>
<rect x="407.11" y="930.60" width="32.20" height="32.20" fill="#4a72bb"/>
<rect x="458.50" y="942.60" width="8.20" height="8.20" fill="#4a72bb"/>
<rect x="496.14" y="940.85" width="11.70" height="11.70" fill="#4a72bb"/>
<rect x="644.75" y="931.90" width="29.60" height="29.60" fill="#4a72bb"/>
<rect x="695.64" y="943.40" width="6.60" height="6.60" fill="#4a72bb"/>
<rect x="766.67" y="935.65" width="22.10" height="22.10" fill="#4a72bb"/>
<rect x="806.11" y="935.70" width="22.00" height="22.00" fill="#4a72bb"/>
<rect x="885.44" y="936.25" width="20.90" height="20.90" fill="#4a72bb"/>
<rect x="59.60" y="981.70" width="18.20" height="18.20" fill="#db2e1c"/>
<rect x="137.13" y="980.45" width="20.70" height="20.70" fill="#db2e1c"/>
<rect x="174.47" y="978.40" width="24.80" height="24.80" fill="#db2e1c"/>
<rect x="219.36" y="983.90" width="13.80" height="13.80" fill="#db2e1c"/>
<rect x="252.70" y="977.85" width="25.90" height="25.90" fill="#db2e1c"/>
<rect x="296.09" y="981.85" width="17.90" height="17.90" fill="#db2e1c"/>
<rect x="336.83" y="983.20" width="15.20" height="15.20" fill="#db2e1c"/>
<rect x="372.22" y="979.20" width="23.20" height="23.20" fill="#db2e1c"/>
<rect x="407.46" y="975.05" width="31.50" height="31.50" fill="#db2e1c"/>
<rect x="767.52" y="980.60" width="20.40" height="20.40" fill="#db2e1c"/>
<rect x="806.91" y="980.60" width="20.40" height="20.40" fill="#db2e1c"/>
<rect x="883.59" y="978.50" width="24.60" height="24.60" fill="#db2e1c"/>
<rect x="1001.66" y="978.40" width="24.80" height="24.80" fill="#db2e1c"/>
<rect x="61.50" y="1027.80" width="14.40" height="14.40" fill="#8545bb"/>
<rect x="137.38" y="1024.90" width="20.20" height="20.20" fill="#8545bb"/>
<rect x="173.87" y="1022.00" width="26.00" height="26.00" fill="#8545bb"/>
<rect x="220.31" y="1029.05" width="11.90" height="11.90" fill="#8545bb"/>
<rect x="251.90" y="1021.25" width="27.50" height="27.50" fill="#8545bb"/>
<rect x="294.69" y="1024.65" width="20.70" height="20.70" fill="#8545bb"/>
<rect x="334.43" y="1025.00" width="20.00" height="20.00" fill="#8545bb"/>
<rect x="372.92" y="1024.10" width="21.80" height="21.80" fill="#8545bb"/>
<rect x="407.86" y="1019.65" width="30.70" height="30.70" fill="#8545bb"/>
<rect x="458.15" y="1030.55" width="8.90" height="8.90" fill="#8545bb"/>
<rect x="733.08" y="1029.75" width="10.50" height="10.50" fill="#8545bb"/>
<rect x="45.30" y="876.50" width="992.10" height="184.60" fill="none" stroke="#5a5a5a" stroke-width="1.2"/>
<line x1="1037.40" y1="902.50" x2="1044.90" y2="902.50" stroke="#333333" stroke-width="1.6"/>
<text x="1051.40" y="910.30" font-size="22.5">OLF</text>
<line x1="1037.40" y1="946.70" x2="1044.90" y2="946.70" stroke="#333333" stroke-width="1.6"/>
<text x="1051.40" y="954.50" font-size="22.5">Isocortex</text>
<line x1="1037.40" y1="990.80" x2="1044.90" y2="990.80" stroke="#333333" stroke-width="1.6"/>
<text x="1051.40" y="998.60" font-size="22.5">HPF</text>
<line x1="1037.40" y1="1035.00" x2="1044.90" y2="1035.00" stroke="#333333" stroke-width="1.6"/>
<text x="1051.40" y="1042.80" font-size="22.5">CNU</text>
<line x1="68.70" y1="1061.10" x2="68.70" y2="1068.60" stroke="#333333" stroke-width="1.6"/>
<text transform="translate(76.70 1075.00) rotate(-90)" font-size="22.5" text-anchor="end">VLMC1</text>
<line x1="108.09" y1="1061.10" x2="108.09" y2="1068.60" stroke="#333333" stroke-width="1.6"/>
<text transform="translate(116.09 1075.00) rotate(-90)" font-size="22.5" text-anchor="end">VEC</text>
<line x1="147.48" y1="1061.10" x2="147.48" y2="1068.60" stroke="#333333" stroke-width="1.6"/>
<text transform="translate(155.48 1075.00) rotate(-90)" font-size="22.5" text-anchor="end">RGSZ</text>
<line x1="186.87" y1="1061.10" x2="186.87" y2="1068.60" stroke="#333333" stroke-width="1.6"/>
<text transform="translate(194.87 1075.00) rotate(-90)" font-size="22.5" text-anchor="end">OPC</text>
<line x1="226.26" y1="1061.10" x2="226.26" y2="1068.60" stroke="#333333" stroke-width="1.6"/>
<text transform="translate(234.26 1075.00) rotate(-90)" font-size="22.5" text-anchor="end">NIPC</text>
<line x1="265.65" y1="1061.10" x2="265.65" y2="1068.60" stroke="#333333" stroke-width="1.6"/>
<text transform="translate(273.65 1075.00) rotate(-90)" font-size="22.5" text-anchor="end">MOL</text>
<line x1="305.04" y1="1061.10" x2="305.04" y2="1068.60" stroke="#333333" stroke-width="1.6"/>
<text transform="translate(313.04 1075.00) rotate(-90)" font-size="22.5" text-anchor="end">MGL</text>
<line x1="344.43" y1="1061.10" x2="344.43" y2="1068.60" stroke="#333333" stroke-width="1.6"/>
<text transform="translate(352.43 1075.00) rotate(-90)" font-size="22.5" text-anchor="end">MFOL</text>
<line x1="383.82" y1="1061.10" x2="383.82" y2="1068.60" stroke="#333333" stroke-width="1.6"/>
<text transform="translate(391.82 1075.00) rotate(-90)" font-size="22.5" text-anchor="end">ASCW</text>
<line x1="423.21" y1="1061.10" x2="423.21" y2="1068.60" stroke="#333333" stroke-width="1.6"/>
<text transform="translate(431.21 1075.00) rotate(-90)" font-size="22.5" text-anchor="end">ASCG</text>
<line x1="462.60" y1="1061.10" x2="462.60" y2="1068.60" stroke="#333333" stroke-width="1.6"/>
<text transform="translate(470.60 1075.00) rotate(-90)" font-size="22.5" text-anchor="end">PTGL8</text>
<line x1="501.99" y1="1061.10" x2="501.99" y2="1068.60" stroke="#333333" stroke-width="1.6"/>
<text transform="translate(509.99 1075.00) rotate(-90)" font-size="22.5" text-anchor="end">PTGL1</text>
<line x1="541.38" y1="1061.10" x2="541.38" y2="1068.60" stroke="#333333" stroke-width="1.6"/>
<text transform="translate(549.38 1075.00) rotate(-90)" font-size="22.5" text-anchor="end">OLFGL2</text>
<line x1="580.77" y1="1061.10" x2="580.77" y2="1068.60" stroke="#333333" stroke-width="1.6"/>
<text transform="translate(588.77 1075.00) rotate(-90)" font-size="22.5" text-anchor="end">ITL5GL1</text>
<line x1="620.16" y1="1061.10" x2="620.16" y2="1068.60" stroke="#333333" stroke-width="1.6"/>
<text transform="translate(628.16 1075.00) rotate(-90)" font-size="22.5" text-anchor="end">ITL23GL3</text>
<line x1="659.55" y1="1061.10" x2="659.55" y2="1068.60" stroke="#333333" stroke-width="1.6"/>
<text transform="translate(667.55 1075.00) rotate(-90)" font-size="22.5" text-anchor="end">ITL23GL2</text>
<line x1="698.94" y1="1061.10" x2="698.94" y2="1068.60" stroke="#333333" stroke-width="1.6"/>
<text transform="translate(706.94 1075.00) rotate(-90)" font-size="22.5" text-anchor="end">CTGL1</text>
<line x1="738.33" y1="1061.10" x2="738.33" y2="1068.60" stroke="#333333" stroke-width="1.6"/>
<text transform="translate(746.33 1075.00) rotate(-90)" font-size="22.5" text-anchor="end">CA3GL5</text>
<line x1="777.72" y1="1061.10" x2="777.72" y2="1068.60" stroke="#333333" stroke-width="1.6"/>
<text transform="translate(785.72 1075.00) rotate(-90)" font-size="22.5" text-anchor="end">VIPGA4</text>
<line x1="817.11" y1="1061.10" x2="817.11" y2="1068.60" stroke="#333333" stroke-width="1.6"/>
<text transform="translate(825.11 1075.00) rotate(-90)" font-size="22.5" text-anchor="end">VIPGA2</text>
<line x1="856.50" y1="1061.10" x2="856.50" y2="1068.60" stroke="#333333" stroke-width="1.6"/>
<text transform="translate(864.50 1075.00) rotate(-90)" font-size="22.5" text-anchor="end">PVGA5</text>
<line x1="895.89" y1="1061.10" x2="895.89" y2="1068.60" stroke="#333333" stroke-width="1.6"/>
<text transform="translate(903.89 1075.00) rotate(-90)" font-size="22.5" text-anchor="end">PVGA4</text>
<line x1="935.28" y1="1061.10" x2="935.28" y2="1068.60" stroke="#333333" stroke-width="1.6"/>
<text transform="translate(943.28 1075.00) rotate(-90)" font-size="22.5" text-anchor="end">PVGA1</text>
<line x1="974.67" y1="1061.10" x2="974.67" y2="1068.60" stroke="#333333" stroke-width="1.6"/>
<text transform="translate(982.67 1075.00) rotate(-90)" font-size="22.5" text-anchor="end">OBNBL</text>
<line x1="1014.06" y1="1061.10" x2="1014.06" y2="1068.60" stroke="#333333" stroke-width="1.6"/>
<text transform="translate(1022.06 1075.00) rotate(-90)" font-size="22.5" text-anchor="end">LAMGA4</text>
<text x="537.50" y="1203.00" font-size="29.3" text-anchor="middle">Cell type</text>
<text transform="translate(29.30 968.70) rotate(-90)" font-size="30" text-anchor="middle">Major Region</text>
<text transform="translate(1220.00 1022.30) rotate(-90)" font-size="26.3" text-anchor="middle"># of differential  cCREs</text>
<text transform="translate(1253.00 1018.20) rotate(-90)" font-size="26.5" text-anchor="middle">(log<tspan font-size="16.5" dy="7">10</tspan><tspan dy="-7">)</tspan></text>
<rect x="1283.30" y="900.10" width="2.80" height="2.80" fill="#0a0a0a"/>
<text x="1324.00" y="910.80" font-size="22.5">1.0</text>
<rect x="1276.60" y="941.50" width="16.20" height="16.20" fill="#0a0a0a"/>
<text x="1324.00" y="958.90" font-size="22.5">1.5</text>
<rect x="1274.20" y="987.80" width="21.00" height="21.00" fill="#0a0a0a"/>
<text x="1324.00" y="1007.60" font-size="22.5">2.0</text>
<rect x="1272.20" y="1034.00" width="25.00" height="25.00" fill="#0a0a0a"/>
<text x="1324.00" y="1055.80" font-size="22.5">2.5</text>
<rect x="1270.60" y="1080.60" width="28.20" height="28.20" fill="#0a0a0a"/>
<text x="1324.00" y="1104.00" font-size="22.5">3.0</text>
<rect x="1269.00" y="1127.40" width="31.40" height="31.40" fill="#0a0a0a"/>
<text x="1324.00" y="1152.40" font-size="22.5">3.5</text>
</g>
<g id="panel-d">
<text x="-0.30" y="1252.50" font-size="43.2" font-weight="bold" stroke="none">d</text>
<rect x="42.30" y="1266.60" width="1853.20" height="517.40" fill="#fff"/>
<line x1="55.10" y1="1266.60" x2="55.10" y2="1784.00" stroke="#f4f4f4" stroke-width="1.7"/>
<line x1="76.61" y1="1266.60" x2="76.61" y2="1784.00" stroke="#f4f4f4" stroke-width="1.7"/>
<line x1="98.11" y1="1266.60" x2="98.11" y2="1784.00" stroke="#f4f4f4" stroke-width="1.7"/>
<line x1="119.62" y1="1266.60" x2="119.62" y2="1784.00" stroke="#f4f4f4" stroke-width="1.7"/>
<line x1="141.12" y1="1266.60" x2="141.12" y2="1784.00" stroke="#f4f4f4" stroke-width="1.7"/>
<line x1="162.63" y1="1266.60" x2="162.63" y2="1784.00" stroke="#f4f4f4" stroke-width="1.7"/>
<line x1="184.14" y1="1266.60" x2="184.14" y2="1784.00" stroke="#f4f4f4" stroke-width="1.7"/>
<line x1="205.64" y1="1266.60" x2="205.64" y2="1784.00" stroke="#f4f4f4" stroke-width="1.7"/>
<line x1="227.15" y1="1266.60" x2="227.15" y2="1784.00" stroke="#f4f4f4" stroke-width="1.7"/>
<line x1="248.65" y1="1266.60" x2="248.65" y2="1784.00" stroke="#f4f4f4" stroke-width="1.7"/>
<line x1="270.16" y1="1266.60" x2="270.16" y2="1784.00" stroke="#f4f4f4" stroke-width="1.7"/>
<line x1="291.67" y1="1266.60" x2="291.67" y2="1784.00" stroke="#f4f4f4" stroke-width="1.7"/>
<line x1="313.17" y1="1266.60" x2="313.17" y2="1784.00" stroke="#f4f4f4" stroke-width="1.7"/>
<line x1="334.68" y1="1266.60" x2="334.68" y2="1784.00" stroke="#f4f4f4" stroke-width="1.7"/>
<line x1="356.18" y1="1266.60" x2="356.18" y2="1784.00" stroke="#f4f4f4" stroke-width="1.7"/>
<line x1="377.69" y1="1266.60" x2="377.69" y2="1784.00" stroke="#f4f4f4" stroke-width="1.7"/>
<line x1="399.20" y1="1266.60" x2="399.20" y2="1784.00" stroke="#f4f4f4" stroke-width="1.7"/>
<line x1="420.70" y1="1266.60" x2="420.70" y2="1784.00" stroke="#f4f4f4" stroke-width="1.7"/>
<line x1="442.21" y1="1266.60" x2="442.21" y2="1784.00" stroke="#f4f4f4" stroke-width="1.7"/>
<line x1="463.71" y1="1266.60" x2="463.71" y2="1784.00" stroke="#f4f4f4" stroke-width="1.7"/>
<line x1="485.22" y1="1266.60" x2="485.22" y2="1784.00" stroke="#f4f4f4" stroke-width="1.7"/>
<line x1="506.73" y1="1266.60" x2="506.73" y2="1784.00" stroke="#f4f4f4" stroke-width="1.7"/>
<line x1="528.23" y1="1266.60" x2="528.23" y2="1784.00" stroke="#f4f4f4" stroke-width="1.7"/>
<line x1="549.74" y1="1266.60" x2="549.74" y2="1784.00" stroke="#f4f4f4" stroke-width="1.7"/>
<line x1="571.24" y1="1266.60" x2="571.24" y2="1784.00" stroke="#f4f4f4" stroke-width="1.7"/>
<line x1="592.75" y1="1266.60" x2="592.75" y2="1784.00" stroke="#f4f4f4" stroke-width="1.7"/>
<line x1="614.26" y1="1266.60" x2="614.26" y2="1784.00" stroke="#f4f4f4" stroke-width="1.7"/>
<line x1="635.76" y1="1266.60" x2="635.76" y2="1784.00" stroke="#f4f4f4" stroke-width="1.7"/>
<line x1="657.27" y1="1266.60" x2="657.27" y2="1784.00" stroke="#f4f4f4" stroke-width="1.7"/>
<line x1="678.77" y1="1266.60" x2="678.77" y2="1784.00" stroke="#f4f4f4" stroke-width="1.7"/>
<line x1="700.28" y1="1266.60" x2="700.28" y2="1784.00" stroke="#f4f4f4" stroke-width="1.7"/>
<line x1="721.79" y1="1266.60" x2="721.79" y2="1784.00" stroke="#f4f4f4" stroke-width="1.7"/>
<line x1="743.29" y1="1266.60" x2="743.29" y2="1784.00" stroke="#f4f4f4" stroke-width="1.7"/>
<line x1="764.80" y1="1266.60" x2="764.80" y2="1784.00" stroke="#f4f4f4" stroke-width="1.7"/>
<line x1="786.30" y1="1266.60" x2="786.30" y2="1784.00" stroke="#f4f4f4" stroke-width="1.7"/>
<line x1="807.81" y1="1266.60" x2="807.81" y2="1784.00" stroke="#f4f4f4" stroke-width="1.7"/>
<line x1="829.32" y1="1266.60" x2="829.32" y2="1784.00" stroke="#f4f4f4" stroke-width="1.7"/>
<line x1="850.82" y1="1266.60" x2="850.82" y2="1784.00" stroke="#f4f4f4" stroke-width="1.7"/>
<line x1="872.33" y1="1266.60" x2="872.33" y2="1784.00" stroke="#f4f4f4" stroke-width="1.7"/>
<line x1="893.83" y1="1266.60" x2="893.83" y2="1784.00" stroke="#f4f4f4" stroke-width="1.7"/>
<line x1="915.34" y1="1266.60" x2="915.34" y2="1784.00" stroke="#f4f4f4" stroke-width="1.7"/>
<line x1="936.85" y1="1266.60" x2="936.85" y2="1784.00" stroke="#f4f4f4" stroke-width="1.7"/>
<line x1="958.35" y1="1266.60" x2="958.35" y2="1784.00" stroke="#f4f4f4" stroke-width="1.7"/>
<line x1="979.86" y1="1266.60" x2="979.86" y2="1784.00" stroke="#f4f4f4" stroke-width="1.7"/>
<line x1="1001.36" y1="1266.60" x2="1001.36" y2="1784.00" stroke="#f4f4f4" stroke-width="1.7"/>
<line x1="1022.87" y1="1266.60" x2="1022.87" y2="1784.00" stroke="#f4f4f4" stroke-width="1.7"/>
<line x1="1044.38" y1="1266.60" x2="1044.38" y2="1784.00" stroke="#f4f4f4" stroke-width="1.7"/>
<line x1="1065.88" y1="1266.60" x2="1065.88" y2="1784.00" stroke="#f4f4f4" stroke-width="1.7"/>
<line x1="1087.39" y1="1266.60" x2="1087.39" y2="1784.00" stroke="#f4f4f4" stroke-width="1.7"/>
<line x1="1108.89" y1="1266.60" x2="1108.89" y2="1784.00" stroke="#f4f4f4" stroke-width="1.7"/>
<line x1="1130.40" y1="1266.60" x2="1130.40" y2="1784.00" stroke="#f4f4f4" stroke-width="1.7"/>
<line x1="1151.91" y1="1266.60" x2="1151.91" y2="1784.00" stroke="#f4f4f4" stroke-width="1.7"/>
<line x1="1173.41" y1="1266.60" x2="1173.41" y2="1784.00" stroke="#f4f4f4" stroke-width="1.7"/>
<line x1="1194.92" y1="1266.60" x2="1194.92" y2="1784.00" stroke="#f4f4f4" stroke-width="1.7"/>
<line x1="1216.42" y1="1266.60" x2="1216.42" y2="1784.00" stroke="#f4f4f4" stroke-width="1.7"/>
<line x1="1237.93" y1="1266.60" x2="1237.93" y2="1784.00" stroke="#f4f4f4" stroke-width="1.7"/>
<line x1="1259.44" y1="1266.60" x2="1259.44" y2="1784.00" stroke="#f4f4f4" stroke-width="1.7"/>
<line x1="1280.94" y1="1266.60" x2="1280.94" y2="1784.00" stroke="#f4f4f4" stroke-width="1.7"/>
<line x1="1302.45" y1="1266.60" x2="1302.45" y2="1784.00" stroke="#f4f4f4" stroke-width="1.7"/>
<line x1="1323.95" y1="1266.60" x2="1323.95" y2="1784.00" stroke="#f4f4f4" stroke-width="1.7"/>
<line x1="1345.46" y1="1266.60" x2="1345.46" y2="1784.00" stroke="#f4f4f4" stroke-width="1.7"/>
<line x1="1366.97" y1="1266.60" x2="1366.97" y2="1784.00" stroke="#f4f4f4" stroke-width="1.7"/>
<line x1="1388.47" y1="1266.60" x2="1388.47" y2="1784.00" stroke="#f4f4f4" stroke-width="1.7"/>
<line x1="1409.98" y1="1266.60" x2="1409.98" y2="1784.00" stroke="#f4f4f4" stroke-width="1.7"/>
<line x1="1431.48" y1="1266.60" x2="1431.48" y2="1784.00" stroke="#f4f4f4" stroke-width="1.7"/>
<line x1="1452.99" y1="1266.60" x2="1452.99" y2="1784.00" stroke="#f4f4f4" stroke-width="1.7"/>
<line x1="1474.50" y1="1266.60" x2="1474.50" y2="1784.00" stroke="#f4f4f4" stroke-width="1.7"/>
<line x1="1496.00" y1="1266.60" x2="1496.00" y2="1784.00" stroke="#f4f4f4" stroke-width="1.7"/>
<line x1="1517.51" y1="1266.60" x2="1517.51" y2="1784.00" stroke="#f4f4f4" stroke-width="1.7"/>
<line x1="1539.01" y1="1266.60" x2="1539.01" y2="1784.00" stroke="#f4f4f4" stroke-width="1.7"/>
<line x1="1560.52" y1="1266.60" x2="1560.52" y2="1784.00" stroke="#f4f4f4" stroke-width="1.7"/>
<line x1="1582.03" y1="1266.60" x2="1582.03" y2="1784.00" stroke="#f4f4f4" stroke-width="1.7"/>
<line x1="1603.53" y1="1266.60" x2="1603.53" y2="1784.00" stroke="#f4f4f4" stroke-width="1.7"/>
<line x1="1625.04" y1="1266.60" x2="1625.04" y2="1784.00" stroke="#f4f4f4" stroke-width="1.7"/>
<line x1="1646.54" y1="1266.60" x2="1646.54" y2="1784.00" stroke="#f4f4f4" stroke-width="1.7"/>
<line x1="1668.05" y1="1266.60" x2="1668.05" y2="1784.00" stroke="#f4f4f4" stroke-width="1.7"/>
<line x1="1689.56" y1="1266.60" x2="1689.56" y2="1784.00" stroke="#f4f4f4" stroke-width="1.7"/>
<line x1="1711.06" y1="1266.60" x2="1711.06" y2="1784.00" stroke="#f4f4f4" stroke-width="1.7"/>
<line x1="1732.57" y1="1266.60" x2="1732.57" y2="1784.00" stroke="#f4f4f4" stroke-width="1.7"/>
<line x1="1754.07" y1="1266.60" x2="1754.07" y2="1784.00" stroke="#f4f4f4" stroke-width="1.7"/>
<line x1="1775.58" y1="1266.60" x2="1775.58" y2="1784.00" stroke="#f4f4f4" stroke-width="1.7"/>
<line x1="1797.09" y1="1266.60" x2="1797.09" y2="1784.00" stroke="#f4f4f4" stroke-width="1.7"/>
<line x1="1818.59" y1="1266.60" x2="1818.59" y2="1784.00" stroke="#f4f4f4" stroke-width="1.7"/>
<line x1="1840.10" y1="1266.60" x2="1840.10" y2="1784.00" stroke="#f4f4f4" stroke-width="1.7"/>
<line x1="1861.60" y1="1266.60" x2="1861.60" y2="1784.00" stroke="#f4f4f4" stroke-width="1.7"/>
<line x1="1883.11" y1="1266.60" x2="1883.11" y2="1784.00" stroke="#f4f4f4" stroke-width="1.7"/>
<line x1="42.30" y1="1284.40" x2="1895.50" y2="1284.40" stroke="#f4f4f4" stroke-width="1.7"/>
<line x1="42.30" y1="1314.56" x2="1895.50" y2="1314.56" stroke="#f4f4f4" stroke-width="1.7"/>
<line x1="42.30" y1="1344.72" x2="1895.50" y2="1344.72" stroke="#f4f4f4" stroke-width="1.7"/>
<line x1="42.30" y1="1374.88" x2="1895.50" y2="1374.88" stroke="#f4f4f4" stroke-width="1.7"/>
<line x1="42.30" y1="1405.04" x2="1895.50" y2="1405.04" stroke="#f4f4f4" stroke-width="1.7"/>
<line x1="42.30" y1="1435.20" x2="1895.50" y2="1435.20" stroke="#f4f4f4" stroke-width="1.7"/>
<line x1="42.30" y1="1465.36" x2="1895.50" y2="1465.36" stroke="#f4f4f4" stroke-width="1.7"/>
<line x1="42.30" y1="1495.52" x2="1895.50" y2="1495.52" stroke="#f4f4f4" stroke-width="1.7"/>
<line x1="42.30" y1="1525.68" x2="1895.50" y2="1525.68" stroke="#f4f4f4" stroke-width="1.7"/>
<line x1="42.30" y1="1555.84" x2="1895.50" y2="1555.84" stroke="#f4f4f4" stroke-width="1.7"/>
<line x1="42.30" y1="1586.00" x2="1895.50" y2="1586.00" stroke="#f4f4f4" stroke-width="1.7"/>
<line x1="42.30" y1="1616.16" x2="1895.50" y2="1616.16" stroke="#f4f4f4" stroke-width="1.7"/>
<line x1="42.30" y1="1646.32" x2="1895.50" y2="1646.32" stroke="#f4f4f4" stroke-width="1.7"/>
<line x1="42.30" y1="1676.48" x2="1895.50" y2="1676.48" stroke="#f4f4f4" stroke-width="1.7"/>
<line x1="42.30" y1="1706.64" x2="1895.50" y2="1706.64" stroke="#f4f4f4" stroke-width="1.7"/>
<line x1="42.30" y1="1736.80" x2="1895.50" y2="1736.80" stroke="#f4f4f4" stroke-width="1.7"/>
<line x1="42.30" y1="1766.96" x2="1895.50" y2="1766.96" stroke="#f4f4f4" stroke-width="1.7"/>
<rect x="177.59" y="1277.85" width="13.10" height="13.10" fill="#cfa29a"/>
<rect x="220.15" y="1277.40" width="14.00" height="14.00" fill="#cfa29a"/>
<rect x="244.35" y="1280.10" width="8.60" height="8.60" fill="#cfa29a"/>
<rect x="303.82" y="1275.05" width="18.70" height="18.70" fill="#cfa29a"/>
<rect x="354.33" y="1282.55" width="3.70" height="3.70" fill="#b9a09c"/>
<rect x="415.00" y="1278.70" width="11.40" height="11.40" fill="#cfa29a"/>
<rect x="527.48" y="1283.65" width="1.50" height="1.50" fill="#777"/>
<rect x="628.56" y="1277.20" width="14.40" height="14.40" fill="#cfa29a"/>
<rect x="669.52" y="1275.15" width="18.50" height="18.50" fill="#cfa29a"/>
<rect x="733.19" y="1274.30" width="20.20" height="20.20" fill="#cfa29a"/>
<rect x="799.31" y="1275.90" width="17.00" height="17.00" fill="#cfa29a"/>
<rect x="819.62" y="1274.70" width="19.40" height="19.40" fill="#cfa29a"/>
<rect x="841.77" y="1275.35" width="18.10" height="18.10" fill="#cfa29a"/>
<rect x="929.75" y="1277.30" width="14.20" height="14.20" fill="#cfa29a"/>
<rect x="972.21" y="1276.75" width="15.30" height="15.30" fill="#cfa29a"/>
<rect x="1445.99" y="1277.40" width="14.00" height="14.00" fill="#cfa29a"/>
<rect x="92.11" y="1308.56" width="12.00" height="12.00" fill="#925244"/>
<rect x="176.19" y="1306.61" width="15.90" height="15.90" fill="#925244"/>
<rect x="218.90" y="1306.31" width="16.50" height="16.50" fill="#925244"/>
<rect x="241.00" y="1306.91" width="15.30" height="15.30" fill="#925244"/>
<rect x="263.41" y="1307.81" width="13.50" height="13.50" fill="#925244"/>
<rect x="284.82" y="1307.71" width="13.70" height="13.70" fill="#925244"/>
<rect x="303.82" y="1305.21" width="18.70" height="18.70" fill="#925244"/>
<rect x="330.18" y="1310.06" width="9.00" height="9.00" fill="#925244"/>
<rect x="413.70" y="1307.56" width="14.00" height="14.00" fill="#925244"/>
<rect x="480.47" y="1309.81" width="9.50" height="9.50" fill="#925244"/>
<rect x="501.23" y="1309.06" width="11.00" height="11.00" fill="#925244"/>
<rect x="522.13" y="1308.46" width="12.20" height="12.20" fill="#925244"/>
<rect x="567.79" y="1311.11" width="6.90" height="6.90" fill="#925244"/>
<rect x="605.11" y="1305.41" width="18.30" height="18.30" fill="#925244"/>
<rect x="627.61" y="1306.41" width="16.30" height="16.30" fill="#925244"/>
<rect x="648.47" y="1305.76" width="17.60" height="17.60" fill="#925244"/>
<rect x="668.87" y="1304.66" width="19.80" height="19.80" fill="#925244"/>
<rect x="696.08" y="1310.36" width="8.40" height="8.40" fill="#925244"/>
<rect x="733.09" y="1304.36" width="20.40" height="20.40" fill="#925244"/>
<rect x="798.26" y="1305.01" width="19.10" height="19.10" fill="#925244"/>
<rect x="819.22" y="1304.46" width="20.20" height="20.20" fill="#925244"/>
<rect x="842.02" y="1305.76" width="17.60" height="17.60" fill="#925244"/>
<rect x="908.14" y="1307.36" width="14.40" height="14.40" fill="#925244"/>
<rect x="929.00" y="1306.71" width="15.70" height="15.70" fill="#925244"/>
<rect x="971.36" y="1306.06" width="17.00" height="17.00" fill="#925244"/>
<rect x="992.46" y="1305.66" width="17.80" height="17.80" fill="#925244"/>
<rect x="1086.44" y="1313.61" width="1.90" height="1.90" fill="#444"/>
<rect x="1104.04" y="1309.71" width="9.70" height="9.70" fill="#925244"/>
<rect x="1124.50" y="1308.66" width="11.80" height="11.80" fill="#925244"/>
<rect x="1341.61" y="1310.71" width="7.70" height="7.70" fill="#925244"/>
<rect x="1362.27" y="1309.86" width="9.40" height="9.40" fill="#925244"/>
<rect x="1426.73" y="1309.81" width="9.50" height="9.50" fill="#925244"/>
<rect x="1444.84" y="1306.41" width="16.30" height="16.30" fill="#925244"/>
<rect x="95.41" y="1342.02" width="5.40" height="5.40" fill="#925244"/>
<rect x="176.29" y="1336.87" width="15.70" height="15.70" fill="#925244"/>
<rect x="219.50" y="1337.07" width="15.30" height="15.30" fill="#925244"/>
<rect x="242.65" y="1338.72" width="12.00" height="12.00" fill="#925244"/>
<rect x="266.61" y="1341.17" width="7.10" height="7.10" fill="#925244"/>
<rect x="285.52" y="1338.57" width="12.30" height="12.30" fill="#925244"/>
<rect x="303.72" y="1335.27" width="18.90" height="18.90" fill="#925244"/>
<rect x="350.28" y="1338.82" width="11.80" height="11.80" fill="#925244"/>
<rect x="392.30" y="1337.82" width="13.80" height="13.80" fill="#925244"/>
<rect x="413.40" y="1337.42" width="14.60" height="14.60" fill="#925244"/>
<rect x="503.53" y="1341.52" width="6.40" height="6.40" fill="#925244"/>
<rect x="521.78" y="1338.27" width="12.90" height="12.90" fill="#925244"/>
<rect x="583.05" y="1335.02" width="19.40" height="19.40" fill="#925244"/>
<rect x="605.26" y="1335.72" width="18.00" height="18.00" fill="#925244"/>
<rect x="627.46" y="1336.42" width="16.60" height="16.60" fill="#925244"/>
<rect x="648.22" y="1335.67" width="18.10" height="18.10" fill="#925244"/>
<rect x="668.77" y="1334.72" width="20.00" height="20.00" fill="#925244"/>
<rect x="732.84" y="1334.27" width="20.90" height="20.90" fill="#925244"/>
<rect x="798.26" y="1335.17" width="19.10" height="19.10" fill="#925244"/>
<rect x="819.22" y="1334.62" width="20.20" height="20.20" fill="#925244"/>
<rect x="841.27" y="1335.17" width="19.10" height="19.10" fill="#925244"/>
<rect x="907.59" y="1336.97" width="15.50" height="15.50" fill="#925244"/>
<rect x="928.60" y="1336.47" width="16.50" height="16.50" fill="#925244"/>
<rect x="971.06" y="1335.92" width="17.60" height="17.60" fill="#925244"/>
<rect x="992.31" y="1335.67" width="18.10" height="18.10" fill="#925244"/>
<rect x="1105.79" y="1341.62" width="6.20" height="6.20" fill="#925244"/>
<rect x="1362.97" y="1340.72" width="8.00" height="8.00" fill="#925244"/>
<rect x="1444.19" y="1335.92" width="17.60" height="17.60" fill="#925244"/>
<rect x="94.76" y="1371.53" width="6.70" height="6.70" fill="#4a72bb"/>
<rect x="176.39" y="1367.13" width="15.50" height="15.50" fill="#4a72bb"/>
<rect x="219.20" y="1366.93" width="15.90" height="15.90" fill="#4a72bb"/>
<rect x="243.50" y="1369.73" width="10.30" height="10.30" fill="#4a72bb"/>
<rect x="286.52" y="1369.73" width="10.30" height="10.30" fill="#4a72bb"/>
<rect x="303.52" y="1365.23" width="19.30" height="19.30" fill="#4a72bb"/>
<rect x="370.04" y="1367.23" width="15.30" height="15.30" fill="#4a72bb"/>
<rect x="392.45" y="1368.13" width="13.50" height="13.50" fill="#4a72bb"/>
<rect x="525.53" y="1372.18" width="5.40" height="5.40" fill="#4a72bb"/>
<rect x="605.11" y="1365.73" width="18.30" height="18.30" fill="#4a72bb"/>
<rect x="628.21" y="1367.33" width="15.10" height="15.10" fill="#4a72bb"/>
<rect x="648.87" y="1366.48" width="16.80" height="16.80" fill="#4a72bb"/>
<rect x="668.67" y="1364.78" width="20.20" height="20.20" fill="#4a72bb"/>
<rect x="714.69" y="1367.78" width="14.20" height="14.20" fill="#4a72bb"/>
<rect x="733.09" y="1364.68" width="20.40" height="20.40" fill="#4a72bb"/>
<rect x="757.80" y="1367.88" width="14.00" height="14.00" fill="#4a72bb"/>
<rect x="798.11" y="1365.18" width="19.40" height="19.40" fill="#4a72bb"/>
<rect x="819.42" y="1364.98" width="19.80" height="19.80" fill="#4a72bb"/>
<rect x="841.37" y="1365.43" width="18.90" height="18.90" fill="#4a72bb"/>
<rect x="929.20" y="1367.23" width="15.30" height="15.30" fill="#4a72bb"/>
<rect x="971.36" y="1366.38" width="17.00" height="17.00" fill="#4a72bb"/>
<rect x="992.21" y="1365.73" width="18.30" height="18.30" fill="#4a72bb"/>
<rect x="1446.14" y="1368.03" width="13.70" height="13.70" fill="#4a72bb"/>
<rect x="176.64" y="1397.54" width="15.00" height="15.00" fill="#4a72bb"/>
<rect x="219.75" y="1397.64" width="14.80" height="14.80" fill="#4a72bb"/>
<rect x="245.95" y="1402.34" width="5.40" height="5.40" fill="#4a72bb"/>
<rect x="288.77" y="1402.14" width="5.80" height="5.80" fill="#4a72bb"/>
<rect x="303.82" y="1395.69" width="18.70" height="18.70" fill="#4a72bb"/>
<rect x="372.64" y="1399.99" width="10.10" height="10.10" fill="#4a72bb"/>
<rect x="393.50" y="1399.34" width="11.40" height="11.40" fill="#4a72bb"/>
<rect x="503.38" y="1401.69" width="6.70" height="6.70" fill="#4a72bb"/>
<rect x="524.68" y="1401.49" width="7.10" height="7.10" fill="#4a72bb"/>
<rect x="583.85" y="1396.14" width="17.80" height="17.80" fill="#4a72bb"/>
<rect x="605.26" y="1396.04" width="18.00" height="18.00" fill="#4a72bb"/>
<rect x="628.36" y="1397.64" width="14.80" height="14.80" fill="#4a72bb"/>
<rect x="648.97" y="1396.74" width="16.60" height="16.60" fill="#4a72bb"/>
<rect x="668.87" y="1395.14" width="19.80" height="19.80" fill="#4a72bb"/>
<rect x="715.69" y="1398.94" width="12.20" height="12.20" fill="#4a72bb"/>
<rect x="733.19" y="1394.94" width="20.20" height="20.20" fill="#4a72bb"/>
<rect x="758.80" y="1399.04" width="12.00" height="12.00" fill="#4a72bb"/>
<rect x="783.10" y="1401.84" width="6.40" height="6.40" fill="#4a72bb"/>
<rect x="798.26" y="1395.49" width="19.10" height="19.10" fill="#4a72bb"/>
<rect x="819.97" y="1395.69" width="18.70" height="18.70" fill="#4a72bb"/>
<rect x="842.02" y="1396.24" width="17.60" height="17.60" fill="#4a72bb"/>
<rect x="908.14" y="1397.84" width="14.40" height="14.40" fill="#4a72bb"/>
<rect x="929.75" y="1397.94" width="14.20" height="14.20" fill="#4a72bb"/>
<rect x="954.35" y="1401.04" width="8.00" height="8.00" fill="#4a72bb"/>
<rect x="971.56" y="1396.74" width="16.60" height="16.60" fill="#4a72bb"/>
<rect x="992.46" y="1396.14" width="17.80" height="17.80" fill="#4a72bb"/>
<rect x="1062.13" y="1401.29" width="7.50" height="7.50" fill="#4a72bb"/>
<rect x="1108.14" y="1404.29" width="1.50" height="1.50" fill="#777"/>
<rect x="1445.14" y="1397.19" width="15.70" height="15.70" fill="#4a72bb"/>
<rect x="96.26" y="1433.35" width="3.70" height="3.70" fill="#2ea822"/>
<rect x="177.04" y="1428.10" width="14.20" height="14.20" fill="#2ea822"/>
<rect x="219.40" y="1427.45" width="15.50" height="15.50" fill="#2ea822"/>
<rect x="244.70" y="1431.25" width="7.90" height="7.90" fill="#2ea822"/>
<rect x="288.02" y="1431.55" width="7.30" height="7.30" fill="#2ea822"/>
<rect x="303.52" y="1425.55" width="19.30" height="19.30" fill="#2ea822"/>
<rect x="372.34" y="1429.85" width="10.70" height="10.70" fill="#2ea822"/>
<rect x="394.15" y="1430.15" width="10.10" height="10.10" fill="#2ea822"/>
<rect x="502.73" y="1431.20" width="8.00" height="8.00" fill="#2ea822"/>
<rect x="523.08" y="1430.05" width="10.30" height="10.30" fill="#2ea822"/>
<rect x="583.40" y="1425.85" width="18.70" height="18.70" fill="#2ea822"/>
<rect x="605.96" y="1426.90" width="16.60" height="16.60" fill="#2ea822"/>
<rect x="627.91" y="1427.35" width="15.70" height="15.70" fill="#2ea822"/>
<rect x="648.37" y="1426.30" width="17.80" height="17.80" fill="#2ea822"/>
<rect x="668.77" y="1425.20" width="20.00" height="20.00" fill="#2ea822"/>
<rect x="715.04" y="1428.45" width="13.50" height="13.50" fill="#2ea822"/>
<rect x="733.19" y="1425.10" width="20.20" height="20.20" fill="#2ea822"/>
<rect x="758.15" y="1428.55" width="13.30" height="13.30" fill="#2ea822"/>
<rect x="783.60" y="1432.50" width="5.40" height="5.40" fill="#2ea822"/>
<rect x="799.21" y="1426.60" width="17.20" height="17.20" fill="#2ea822"/>
<rect x="819.77" y="1425.65" width="19.10" height="19.10" fill="#2ea822"/>
<rect x="841.37" y="1425.75" width="18.90" height="18.90" fill="#2ea822"/>
<rect x="907.79" y="1427.65" width="15.10" height="15.10" fill="#2ea822"/>
<rect x="929.10" y="1427.45" width="15.50" height="15.50" fill="#2ea822"/>
<rect x="954.40" y="1431.25" width="7.90" height="7.90" fill="#2ea822"/>
<rect x="971.61" y="1426.95" width="16.50" height="16.50" fill="#2ea822"/>
<rect x="992.46" y="1426.30" width="17.80" height="17.80" fill="#2ea822"/>
<rect x="1106.09" y="1432.40" width="5.60" height="5.60" fill="#2ea822"/>
<rect x="1444.49" y="1426.70" width="17.00" height="17.00" fill="#2ea822"/>
<rect x="49.75" y="1460.01" width="10.70" height="10.70" fill="#2ea822"/>
<rect x="72.11" y="1460.86" width="9.00" height="9.00" fill="#2ea822"/>
<rect x="91.86" y="1459.11" width="12.50" height="12.50" fill="#2ea822"/>
<rect x="115.62" y="1461.36" width="8.00" height="8.00" fill="#2ea822"/>
<rect x="158.88" y="1461.61" width="7.50" height="7.50" fill="#2ea822"/>
<rect x="176.19" y="1457.41" width="15.90" height="15.90" fill="#2ea822"/>
<rect x="219.00" y="1457.21" width="16.30" height="16.30" fill="#2ea822"/>
<rect x="241.45" y="1458.16" width="14.40" height="14.40" fill="#2ea822"/>
<rect x="263.31" y="1458.51" width="13.70" height="13.70" fill="#2ea822"/>
<rect x="284.92" y="1458.61" width="13.50" height="13.50" fill="#2ea822"/>
<rect x="303.62" y="1455.81" width="19.10" height="19.10" fill="#2ea822"/>
<rect x="371.24" y="1458.91" width="12.90" height="12.90" fill="#2ea822"/>
<rect x="392.35" y="1458.51" width="13.70" height="13.70" fill="#2ea822"/>
<rect x="500.93" y="1459.56" width="11.60" height="11.60" fill="#2ea822"/>
<rect x="521.38" y="1458.51" width="13.70" height="13.70" fill="#2ea822"/>
<rect x="546.19" y="1461.81" width="7.10" height="7.10" fill="#2ea822"/>
<rect x="583.70" y="1456.31" width="18.10" height="18.10" fill="#2ea822"/>
<rect x="605.76" y="1456.86" width="17.00" height="17.00" fill="#2ea822"/>
<rect x="627.51" y="1457.11" width="16.50" height="16.50" fill="#2ea822"/>
<rect x="648.37" y="1456.46" width="17.80" height="17.80" fill="#2ea822"/>
<rect x="668.87" y="1455.46" width="19.80" height="19.80" fill="#2ea822"/>
<rect x="714.59" y="1458.16" width="14.40" height="14.40" fill="#2ea822"/>
<rect x="733.19" y="1455.26" width="20.20" height="20.20" fill="#2ea822"/>
<rect x="757.30" y="1457.86" width="15.00" height="15.00" fill="#2ea822"/>
<rect x="779.10" y="1458.16" width="14.40" height="14.40" fill="#2ea822"/>
<rect x="799.31" y="1456.86" width="17.00" height="17.00" fill="#2ea822"/>
<rect x="819.52" y="1455.56" width="19.60" height="19.60" fill="#2ea822"/>
<rect x="841.47" y="1456.01" width="18.70" height="18.70" fill="#2ea822"/>
<rect x="887.83" y="1459.36" width="12.00" height="12.00" fill="#2ea822"/>
<rect x="929.00" y="1457.51" width="15.70" height="15.70" fill="#2ea822"/>
<rect x="950.85" y="1457.86" width="15.00" height="15.00" fill="#2ea822"/>
<rect x="971.46" y="1456.96" width="16.80" height="16.80" fill="#2ea822"/>
<rect x="992.36" y="1456.36" width="18.00" height="18.00" fill="#2ea822"/>
<rect x="1016.02" y="1458.51" width="13.70" height="13.70" fill="#2ea822"/>
<rect x="1083.44" y="1461.41" width="7.90" height="7.90" fill="#2ea822"/>
<rect x="1124.30" y="1459.26" width="12.20" height="12.20" fill="#2ea822"/>
<rect x="1211.67" y="1460.61" width="9.50" height="9.50" fill="#2ea822"/>
<rect x="1255.34" y="1461.26" width="8.20" height="8.20" fill="#2ea822"/>
<rect x="1276.99" y="1461.41" width="7.90" height="7.90" fill="#2ea822"/>
<rect x="1297.85" y="1460.76" width="9.20" height="9.20" fill="#2ea822"/>
<rect x="1318.80" y="1460.21" width="10.30" height="10.30" fill="#2ea822"/>
<rect x="1340.11" y="1460.01" width="10.70" height="10.70" fill="#2ea822"/>
<rect x="1361.37" y="1459.76" width="11.20" height="11.20" fill="#2ea822"/>
<rect x="1383.07" y="1459.96" width="10.80" height="10.80" fill="#2ea822"/>
<rect x="1426.13" y="1460.01" width="10.70" height="10.70" fill="#2ea822"/>
<rect x="1444.19" y="1456.56" width="17.60" height="17.60" fill="#2ea822"/>
<rect x="1664.10" y="1461.41" width="7.90" height="7.90" fill="#2ea822"/>
<rect x="1684.06" y="1459.86" width="11.00" height="11.00" fill="#2ea822"/>
<rect x="1705.36" y="1459.66" width="11.40" height="11.40" fill="#2ea822"/>
<rect x="177.59" y="1488.97" width="13.10" height="13.10" fill="#bcdb12"/>
<rect x="220.30" y="1488.67" width="13.70" height="13.70" fill="#bcdb12"/>
<rect x="286.97" y="1490.82" width="9.40" height="9.40" fill="#bcdb12"/>
<rect x="304.37" y="1486.72" width="17.60" height="17.60" fill="#bcdb12"/>
<rect x="392.10" y="1488.42" width="14.20" height="14.20" fill="#bcdb12"/>
<rect x="413.95" y="1488.77" width="13.50" height="13.50" fill="#bcdb12"/>
<rect x="435.01" y="1488.32" width="14.40" height="14.40" fill="#bcdb12"/>
<rect x="503.48" y="1492.27" width="6.50" height="6.50" fill="#bcdb12"/>
<rect x="523.38" y="1490.67" width="9.70" height="9.70" fill="#bcdb12"/>
<rect x="583.70" y="1486.47" width="18.10" height="18.10" fill="#bcdb12"/>
<rect x="605.86" y="1487.12" width="16.80" height="16.80" fill="#bcdb12"/>
<rect x="628.76" y="1488.52" width="14.00" height="14.00" fill="#bcdb12"/>
<rect x="648.67" y="1486.92" width="17.20" height="17.20" fill="#bcdb12"/>
<rect x="668.57" y="1485.32" width="20.40" height="20.40" fill="#bcdb12"/>
<rect x="714.59" y="1488.32" width="14.40" height="14.40" fill="#bcdb12"/>
<rect x="733.19" y="1485.42" width="20.20" height="20.20" fill="#bcdb12"/>
<rect x="759.45" y="1490.17" width="10.70" height="10.70" fill="#bcdb12"/>
<rect x="798.91" y="1486.62" width="17.80" height="17.80" fill="#bcdb12"/>
<rect x="819.52" y="1485.72" width="19.60" height="19.60" fill="#bcdb12"/>
<rect x="842.22" y="1486.92" width="17.20" height="17.20" fill="#bcdb12"/>
<rect x="929.75" y="1488.42" width="14.20" height="14.20" fill="#bcdb12"/>
<rect x="972.21" y="1487.87" width="15.30" height="15.30" fill="#bcdb12"/>
<rect x="992.21" y="1486.37" width="18.30" height="18.30" fill="#bcdb12"/>
<rect x="1445.49" y="1488.02" width="15.00" height="15.00" fill="#bcdb12"/>
<rect x="134.02" y="1518.58" width="14.20" height="14.20" fill="#f4800a"/>
<rect x="178.34" y="1519.88" width="11.60" height="11.60" fill="#f4800a"/>
<rect x="219.40" y="1517.93" width="15.50" height="15.50" fill="#f4800a"/>
<rect x="245.95" y="1522.98" width="5.40" height="5.40" fill="#f4800a"/>
<rect x="304.47" y="1516.98" width="17.40" height="17.40" fill="#f4800a"/>
<rect x="434.91" y="1518.38" width="14.60" height="14.60" fill="#f4800a"/>
<rect x="457.71" y="1519.68" width="12.00" height="12.00" fill="#f4800a"/>
<rect x="94.16" y="1551.89" width="7.90" height="7.90" fill="#f4800a"/>
<rect x="134.12" y="1548.84" width="14.00" height="14.00" fill="#f4800a"/>
<rect x="178.14" y="1549.84" width="12.00" height="12.00" fill="#f4800a"/>
<rect x="219.75" y="1548.44" width="14.80" height="14.80" fill="#f4800a"/>
<rect x="243.50" y="1550.69" width="10.30" height="10.30" fill="#f4800a"/>
<rect x="265.96" y="1551.64" width="8.40" height="8.40" fill="#f4800a"/>
<rect x="287.37" y="1551.54" width="8.60" height="8.60" fill="#f4800a"/>
<rect x="304.37" y="1547.04" width="17.60" height="17.60" fill="#f4800a"/>
<rect x="414.90" y="1550.04" width="11.60" height="11.60" fill="#f4800a"/>
<rect x="434.81" y="1548.44" width="14.80" height="14.80" fill="#f4800a"/>
<rect x="457.06" y="1549.19" width="13.30" height="13.30" fill="#f4800a"/>
<rect x="819.77" y="1546.29" width="19.10" height="19.10" fill="#f4800a"/>
<rect x="1194.17" y="1555.09" width="1.50" height="1.50" fill="#666"/>
<rect x="1472.15" y="1553.49" width="4.70" height="4.70" fill="#f4800a"/>
<rect x="1489.30" y="1549.14" width="13.40" height="13.40" fill="#f4800a"/>
<rect x="1596.83" y="1549.14" width="13.40" height="13.40" fill="#f4800a"/>
<rect x="1875.66" y="1548.39" width="14.90" height="14.90" fill="#f4800a"/>
<rect x="94.76" y="1582.65" width="6.70" height="6.70" fill="#f5bc42"/>
<rect x="176.59" y="1578.45" width="15.10" height="15.10" fill="#f5bc42"/>
<rect x="218.90" y="1577.75" width="16.50" height="16.50" fill="#f5bc42"/>
<rect x="242.00" y="1579.35" width="13.30" height="13.30" fill="#f5bc42"/>
<rect x="264.36" y="1580.20" width="11.60" height="11.60" fill="#f5bc42"/>
<rect x="285.77" y="1580.10" width="11.80" height="11.80" fill="#f5bc42"/>
<rect x="303.62" y="1576.45" width="19.10" height="19.10" fill="#f5bc42"/>
<rect x="413.85" y="1579.15" width="13.70" height="13.70" fill="#f5bc42"/>
<rect x="435.01" y="1578.80" width="14.40" height="14.40" fill="#f5bc42"/>
<rect x="457.36" y="1579.65" width="12.70" height="12.70" fill="#f5bc42"/>
<rect x="502.73" y="1582.00" width="8.00" height="8.00" fill="#f5bc42"/>
<rect x="583.95" y="1577.20" width="17.60" height="17.60" fill="#f5bc42"/>
<rect x="733.49" y="1576.20" width="19.60" height="19.60" fill="#f5bc42"/>
<rect x="799.21" y="1577.40" width="17.20" height="17.20" fill="#f5bc42"/>
<rect x="819.42" y="1576.10" width="19.80" height="19.80" fill="#f5bc42"/>
<rect x="992.46" y="1577.10" width="17.80" height="17.80" fill="#f5bc42"/>
<rect x="1016.52" y="1579.65" width="12.70" height="12.70" fill="#f5bc42"/>
<rect x="1103.64" y="1580.75" width="10.50" height="10.50" fill="#f5bc42"/>
<rect x="1124.80" y="1580.40" width="11.20" height="11.20" fill="#f5bc42"/>
<rect x="1167.41" y="1580.00" width="12.00" height="12.00" fill="#f5bc42"/>
<rect x="1188.67" y="1579.75" width="12.50" height="12.50" fill="#f5bc42"/>
<rect x="1299.35" y="1582.90" width="6.20" height="6.20" fill="#f5bc42"/>
<rect x="1384.17" y="1581.70" width="8.60" height="8.60" fill="#f5bc42"/>
<rect x="1404.58" y="1580.60" width="10.80" height="10.80" fill="#f5bc42"/>
<rect x="1444.94" y="1577.95" width="16.10" height="16.10" fill="#f5bc42"/>
<rect x="1538.41" y="1585.40" width="1.20" height="1.20" fill="#f3e0a8"/>
<rect x="1553.07" y="1578.55" width="14.90" height="14.90" fill="#f5bc42"/>
<rect x="1595.38" y="1577.85" width="16.30" height="16.30" fill="#f5bc42"/>
<rect x="1685.61" y="1582.05" width="7.90" height="7.90" fill="#f5bc42"/>
<rect x="1708.91" y="1583.85" width="4.30" height="4.30" fill="#f5bc42"/>
<rect x="1834.50" y="1580.40" width="11.20" height="11.20" fill="#f5bc42"/>
<rect x="1856.00" y="1580.40" width="11.20" height="11.20" fill="#f5bc42"/>
<rect x="1876.21" y="1579.10" width="13.80" height="13.80" fill="#f5bc42"/>
<rect x="93.41" y="1611.46" width="9.40" height="9.40" fill="#d82e1c"/>
<rect x="134.22" y="1609.26" width="13.80" height="13.80" fill="#d82e1c"/>
<rect x="176.74" y="1608.76" width="14.80" height="14.80" fill="#d82e1c"/>
<rect x="219.60" y="1608.61" width="15.10" height="15.10" fill="#d82e1c"/>
<rect x="243.05" y="1610.56" width="11.20" height="11.20" fill="#d82e1c"/>
<rect x="266.91" y="1612.91" width="6.50" height="6.50" fill="#d82e1c"/>
<rect x="284.67" y="1609.16" width="14.00" height="14.00" fill="#d82e1c"/>
<rect x="303.62" y="1606.61" width="19.10" height="19.10" fill="#d82e1c"/>
<rect x="863.73" y="1607.56" width="17.20" height="17.20" fill="#d82e1c"/>
<rect x="993.41" y="1608.21" width="15.90" height="15.90" fill="#d82e1c"/>
<rect x="1034.38" y="1606.16" width="20.00" height="20.00" fill="#d82e1c"/>
<rect x="1104.79" y="1612.06" width="8.20" height="8.20" fill="#d82e1c"/>
<rect x="1445.34" y="1608.51" width="15.30" height="15.30" fill="#d82e1c"/>
<rect x="1662.35" y="1610.46" width="11.40" height="11.40" fill="#d82e1c"/>
<rect x="93.26" y="1641.47" width="9.70" height="9.70" fill="#fbafb8"/>
<rect x="177.14" y="1639.32" width="14.00" height="14.00" fill="#fbafb8"/>
<rect x="220.15" y="1639.32" width="14.00" height="14.00" fill="#fbafb8"/>
<rect x="243.40" y="1641.07" width="10.50" height="10.50" fill="#fbafb8"/>
<circle cx="270.16" cy="1646.32" r="3.3" fill="#fbafb8"/>
<rect x="285.02" y="1639.67" width="13.30" height="13.30" fill="#fbafb8"/>
<rect x="303.72" y="1636.87" width="18.90" height="18.90" fill="#fbafb8"/>
<rect x="864.83" y="1638.82" width="15.00" height="15.00" fill="#fbafb8"/>
<rect x="1035.33" y="1637.27" width="18.10" height="18.10" fill="#fbafb8"/>
<rect x="1105.14" y="1642.57" width="7.50" height="7.50" fill="#fbafb8"/>
<rect x="1234.48" y="1642.87" width="6.90" height="6.90" fill="#fbafb8"/>
<rect x="136.42" y="1671.78" width="9.40" height="9.40" fill="#f9d6ec"/>
<rect x="177.04" y="1669.38" width="14.20" height="14.20" fill="#f9d6ec"/>
<rect x="219.75" y="1669.08" width="14.80" height="14.80" fill="#f9d6ec"/>
<rect x="242.30" y="1670.13" width="12.70" height="12.70" fill="#f9d6ec"/>
<rect x="264.56" y="1670.88" width="11.20" height="11.20" fill="#f9d6ec"/>
<rect x="304.37" y="1667.68" width="17.60" height="17.60" fill="#f9d6ec"/>
<rect x="436.51" y="1670.78" width="11.40" height="11.40" fill="#f9d6ec"/>
<rect x="649.32" y="1668.53" width="15.90" height="15.90" fill="#f9d6ec"/>
<rect x="1167.26" y="1670.33" width="12.30" height="12.30" fill="#f9d6ec"/>
<rect x="1190.62" y="1672.18" width="8.60" height="8.60" fill="#f9d6ec"/>
<rect x="1597.73" y="1670.68" width="11.60" height="11.60" fill="#f9d6ec"/>
<rect x="1620.29" y="1671.73" width="9.50" height="9.50" fill="#f9d6ec"/>
<rect x="1727.32" y="1671.23" width="10.50" height="10.50" fill="#f9d6ec"/>
<rect x="1752.02" y="1674.43" width="4.10" height="4.10" fill="#f5dcea"/>
<rect x="1770.23" y="1671.13" width="10.70" height="10.70" fill="#f9d6ec"/>
<rect x="1791.94" y="1671.33" width="10.30" height="10.30" fill="#f9d6ec"/>
<rect x="1833.05" y="1669.43" width="14.10" height="14.10" fill="#f9d6ec"/>
<rect x="1854.70" y="1669.58" width="13.80" height="13.80" fill="#f9d6ec"/>
<rect x="1875.46" y="1668.83" width="15.30" height="15.30" fill="#f9d6ec"/>
<rect x="135.12" y="1700.64" width="12.00" height="12.00" fill="#8545bb"/>
<rect x="178.24" y="1700.74" width="11.80" height="11.80" fill="#8545bb"/>
<rect x="219.60" y="1699.09" width="15.10" height="15.10" fill="#8545bb"/>
<rect x="244.80" y="1702.79" width="7.70" height="7.70" fill="#8545bb"/>
<rect x="303.82" y="1697.29" width="18.70" height="18.70" fill="#8545bb"/>
<rect x="1191.37" y="1703.09" width="7.10" height="7.10" fill="#8545bb"/>
<rect x="1597.93" y="1701.04" width="11.20" height="11.20" fill="#8545bb"/>
<rect x="1619.79" y="1701.39" width="10.50" height="10.50" fill="#8545bb"/>
<rect x="1748.27" y="1700.84" width="11.60" height="11.60" fill="#8545bb"/>
<rect x="1768.03" y="1699.09" width="15.10" height="15.10" fill="#8545bb"/>
<rect x="1837.00" y="1703.54" width="6.20" height="6.20" fill="#8545bb"/>
<rect x="1855.40" y="1700.44" width="12.40" height="12.40" fill="#8545bb"/>
<rect x="1876.41" y="1699.94" width="13.40" height="13.40" fill="#8545bb"/>
<rect x="134.12" y="1729.80" width="14.00" height="14.00" fill="#c0206a"/>
<rect x="176.19" y="1728.85" width="15.90" height="15.90" fill="#c0206a"/>
<rect x="203.39" y="1734.55" width="4.50" height="4.50" fill="#c0206a"/>
<rect x="218.90" y="1728.55" width="16.50" height="16.50" fill="#c0206a"/>
<rect x="241.90" y="1730.05" width="13.50" height="13.50" fill="#c0206a"/>
<rect x="264.56" y="1731.20" width="11.20" height="11.20" fill="#c0206a"/>
<rect x="303.62" y="1727.25" width="19.10" height="19.10" fill="#c0206a"/>
<rect x="501.58" y="1731.65" width="10.30" height="10.30" fill="#c0206a"/>
<rect x="568.04" y="1733.60" width="6.40" height="6.40" fill="#c0206a"/>
<rect x="1168.16" y="1731.55" width="10.50" height="10.50" fill="#c0206a"/>
<rect x="1188.47" y="1730.35" width="12.90" height="12.90" fill="#c0206a"/>
<rect x="1512.96" y="1732.25" width="9.10" height="9.10" fill="#c0206a"/>
<rect x="1576.78" y="1731.55" width="10.50" height="10.50" fill="#c0206a"/>
<rect x="1595.98" y="1729.25" width="15.10" height="15.10" fill="#c0206a"/>
<rect x="1621.54" y="1733.30" width="7.00" height="7.00" fill="#c0206a"/>
<rect x="1874.86" y="1728.55" width="16.50" height="16.50" fill="#c0206a"/>
<rect x="92.21" y="1761.06" width="11.80" height="11.80" fill="#a964d0"/>
<rect x="134.87" y="1760.71" width="12.50" height="12.50" fill="#a964d0"/>
<rect x="176.19" y="1759.01" width="15.90" height="15.90" fill="#a964d0"/>
<rect x="218.90" y="1758.71" width="16.50" height="16.50" fill="#a964d0"/>
<rect x="241.75" y="1760.06" width="13.80" height="13.80" fill="#a964d0"/>
<rect x="263.61" y="1760.41" width="13.10" height="13.10" fill="#a964d0"/>
<rect x="284.82" y="1760.11" width="13.70" height="13.70" fill="#a964d0"/>
<rect x="304.02" y="1757.81" width="18.30" height="18.30" fill="#a964d0"/>
<rect x="1167.26" y="1760.81" width="12.30" height="12.30" fill="#a964d0"/>
<rect x="1188.47" y="1760.51" width="12.90" height="12.90" fill="#a964d0"/>
<rect x="1511.01" y="1760.46" width="13.00" height="13.00" fill="#a964d0"/>
<rect x="1575.43" y="1760.36" width="13.20" height="13.20" fill="#a964d0"/>
<rect x="1596.63" y="1760.06" width="13.80" height="13.80" fill="#a964d0"/>
<rect x="1644.04" y="1764.46" width="5.00" height="5.00" fill="#a964d0"/>
<rect x="1793.59" y="1763.46" width="7.00" height="7.00" fill="#a964d0"/>
<rect x="1833.30" y="1760.16" width="13.60" height="13.60" fill="#a964d0"/>
<rect x="1854.15" y="1759.51" width="14.90" height="14.90" fill="#a964d0"/>
<rect x="1875.86" y="1759.71" width="14.50" height="14.50" fill="#a964d0"/>
<rect x="42.30" y="1266.60" width="1853.20" height="517.40" fill="none" stroke="#5a5a5a" stroke-width="1.2"/>
<line x1="1895.50" y1="1284.40" x2="1901.30" y2="1284.40" stroke="#333333" stroke-width="1.6"/>
<text x="1905.10" y="1291.50" font-size="22.5">ORB</text>
<line x1="1895.50" y1="1314.56" x2="1901.30" y2="1314.56" stroke="#333333" stroke-width="1.6"/>
<text x="1905.10" y="1321.66" font-size="22.5">ACA</text>
<line x1="1895.50" y1="1344.72" x2="1901.30" y2="1344.72" stroke="#333333" stroke-width="1.6"/>
<text x="1905.10" y="1351.82" font-size="22.5">ACA,PL,ILA</text>
<line x1="1895.50" y1="1374.88" x2="1901.30" y2="1374.88" stroke="#333333" stroke-width="1.6"/>
<text x="1905.10" y="1381.98" font-size="22.5">MOs</text>
<line x1="1895.50" y1="1405.04" x2="1901.30" y2="1405.04" stroke="#333333" stroke-width="1.6"/>
<text x="1905.10" y="1412.14" font-size="22.5">MOp</text>
<line x1="1895.50" y1="1435.20" x2="1901.30" y2="1435.20" stroke="#333333" stroke-width="1.6"/>
<text x="1905.10" y="1442.30" font-size="22.5">SSp</text>
<line x1="1895.50" y1="1465.36" x2="1901.30" y2="1465.36" stroke="#333333" stroke-width="1.6"/>
<text x="1905.10" y="1472.46" font-size="22.5">SSs</text>
<line x1="1895.50" y1="1495.52" x2="1901.30" y2="1495.52" stroke="#333333" stroke-width="1.6"/>
<text x="1905.10" y="1502.62" font-size="22.5">AI</text>
<line x1="1895.50" y1="1525.68" x2="1901.30" y2="1525.68" stroke="#333333" stroke-width="1.6"/>
<text x="1905.10" y="1532.78" font-size="22.5">MOB,AON</text>
<line x1="1895.50" y1="1555.84" x2="1901.30" y2="1555.84" stroke="#333333" stroke-width="1.6"/>
<text x="1905.10" y="1562.94" font-size="22.5">AON</text>
<line x1="1895.50" y1="1586.00" x2="1901.30" y2="1586.00" stroke="#333333" stroke-width="1.6"/>
<text x="1905.10" y="1593.10" font-size="22.5">PIR</text>
<line x1="1895.50" y1="1616.16" x2="1901.30" y2="1616.16" stroke="#333333" stroke-width="1.6"/>
<text x="1905.10" y="1623.26" font-size="22.5">CA</text>
<line x1="1895.50" y1="1646.32" x2="1901.30" y2="1646.32" stroke="#333333" stroke-width="1.6"/>
<text x="1905.10" y="1653.42" font-size="22.5">DG</text>
<line x1="1895.50" y1="1676.48" x2="1901.30" y2="1676.48" stroke="#333333" stroke-width="1.6"/>
<text x="1905.10" y="1683.58" font-size="22.5">ACB</text>
<line x1="1895.50" y1="1706.64" x2="1901.30" y2="1706.64" stroke="#333333" stroke-width="1.6"/>
<text x="1905.10" y="1713.74" font-size="22.5">CP</text>
<line x1="1895.50" y1="1736.80" x2="1901.30" y2="1736.80" stroke="#333333" stroke-width="1.6"/>
<text x="1905.10" y="1743.90" font-size="22.5">LSX</text>
<line x1="1895.50" y1="1766.96" x2="1901.30" y2="1766.96" stroke="#333333" stroke-width="1.6"/>
<text x="1905.10" y="1774.06" font-size="22.5">PAL</text>
<line x1="55.10" y1="1784.00" x2="55.10" y2="1789.80" stroke="#333333" stroke-width="1.6"/>
<text transform="translate(59.60 1795.80) rotate(-90)" font-size="15.0" text-anchor="end">VPIA2</text>
<line x1="76.61" y1="1784.00" x2="76.61" y2="1789.80" stroke="#333333" stroke-width="1.6"/>
<text transform="translate(81.11 1795.80) rotate(-90)" font-size="15.0" text-anchor="end">VLMC2</text>
<line x1="98.11" y1="1784.00" x2="98.11" y2="1789.80" stroke="#333333" stroke-width="1.6"/>
<text transform="translate(102.61 1795.80) rotate(-90)" font-size="15.0" text-anchor="end">VLMC1</text>
<line x1="119.62" y1="1784.00" x2="119.62" y2="1789.80" stroke="#333333" stroke-width="1.6"/>
<text transform="translate(124.12 1795.80) rotate(-90)" font-size="15.0" text-anchor="end">VEC</text>
<line x1="141.12" y1="1784.00" x2="141.12" y2="1789.80" stroke="#333333" stroke-width="1.6"/>
<text transform="translate(145.62 1795.80) rotate(-90)" font-size="15.0" text-anchor="end">RGSZ</text>
<line x1="162.63" y1="1784.00" x2="162.63" y2="1789.80" stroke="#333333" stroke-width="1.6"/>
<text transform="translate(167.13 1795.80) rotate(-90)" font-size="15.0" text-anchor="end">PER</text>
<line x1="184.14" y1="1784.00" x2="184.14" y2="1789.80" stroke="#333333" stroke-width="1.6"/>
<text transform="translate(188.64 1795.80) rotate(-90)" font-size="15.0" text-anchor="end">OPC</text>
<line x1="205.64" y1="1784.00" x2="205.64" y2="1789.80" stroke="#333333" stroke-width="1.6"/>
<text transform="translate(210.14 1795.80) rotate(-90)" font-size="15.0" text-anchor="end">NIPC</text>
<line x1="227.15" y1="1784.00" x2="227.15" y2="1789.80" stroke="#333333" stroke-width="1.6"/>
<text transform="translate(231.65 1795.80) rotate(-90)" font-size="15.0" text-anchor="end">MOL</text>
<line x1="248.65" y1="1784.00" x2="248.65" y2="1789.80" stroke="#333333" stroke-width="1.6"/>
<text transform="translate(253.15 1795.80) rotate(-90)" font-size="15.0" text-anchor="end">MGL</text>
<line x1="270.16" y1="1784.00" x2="270.16" y2="1789.80" stroke="#333333" stroke-width="1.6"/>
<text transform="translate(274.66 1795.80) rotate(-90)" font-size="15.0" text-anchor="end">MFOL</text>
<line x1="291.67" y1="1784.00" x2="291.67" y2="1789.80" stroke="#333333" stroke-width="1.6"/>
<text transform="translate(296.17 1795.80) rotate(-90)" font-size="15.0" text-anchor="end">ASCW</text>
<line x1="313.17" y1="1784.00" x2="313.17" y2="1789.80" stroke="#333333" stroke-width="1.6"/>
<text transform="translate(317.67 1795.80) rotate(-90)" font-size="15.0" text-anchor="end">ASCG</text>
<line x1="334.68" y1="1784.00" x2="334.68" y2="1789.80" stroke="#333333" stroke-width="1.6"/>
<text transform="translate(339.18 1795.80) rotate(-90)" font-size="15.0" text-anchor="end">PTGL5</text>
<line x1="356.18" y1="1784.00" x2="356.18" y2="1789.80" stroke="#333333" stroke-width="1.6"/>
<text transform="translate(360.68 1795.80) rotate(-90)" font-size="15.0" text-anchor="end">PTGL4</text>
<line x1="377.69" y1="1784.00" x2="377.69" y2="1789.80" stroke="#333333" stroke-width="1.6"/>
<text transform="translate(382.19 1795.80) rotate(-90)" font-size="15.0" text-anchor="end">PTGL3</text>
<line x1="399.20" y1="1784.00" x2="399.20" y2="1789.80" stroke="#333333" stroke-width="1.6"/>
<text transform="translate(403.70 1795.80) rotate(-90)" font-size="15.0" text-anchor="end">PTGL2</text>
<line x1="420.70" y1="1784.00" x2="420.70" y2="1789.80" stroke="#333333" stroke-width="1.6"/>
<text transform="translate(425.20 1795.80) rotate(-90)" font-size="15.0" text-anchor="end">PTGL1</text>
<line x1="442.21" y1="1784.00" x2="442.21" y2="1789.80" stroke="#333333" stroke-width="1.6"/>
<text transform="translate(446.71 1795.80) rotate(-90)" font-size="15.0" text-anchor="end">OLFGL2</text>
<line x1="463.71" y1="1784.00" x2="463.71" y2="1789.80" stroke="#333333" stroke-width="1.6"/>
<text transform="translate(468.21 1795.80) rotate(-90)" font-size="15.0" text-anchor="end">OBGL1</text>
<line x1="485.22" y1="1784.00" x2="485.22" y2="1789.80" stroke="#333333" stroke-width="1.6"/>
<text transform="translate(489.72 1795.80) rotate(-90)" font-size="15.0" text-anchor="end">NPGL3</text>
<line x1="506.73" y1="1784.00" x2="506.73" y2="1789.80" stroke="#333333" stroke-width="1.6"/>
<text transform="translate(511.23 1795.80) rotate(-90)" font-size="15.0" text-anchor="end">NPGL2</text>
<line x1="528.23" y1="1784.00" x2="528.23" y2="1789.80" stroke="#333333" stroke-width="1.6"/>
<text transform="translate(532.73 1795.80) rotate(-90)" font-size="15.0" text-anchor="end">NPGL1</text>
<line x1="549.74" y1="1784.00" x2="549.74" y2="1789.80" stroke="#333333" stroke-width="1.6"/>
<text transform="translate(554.24 1795.80) rotate(-90)" font-size="15.0" text-anchor="end">L6bGL3</text>
<line x1="571.24" y1="1784.00" x2="571.24" y2="1789.80" stroke="#333333" stroke-width="1.6"/>
<text transform="translate(575.74 1795.80) rotate(-90)" font-size="15.0" text-anchor="end">L6bGL1</text>
<line x1="592.75" y1="1784.00" x2="592.75" y2="1789.80" stroke="#333333" stroke-width="1.6"/>
<text transform="translate(597.25 1795.80) rotate(-90)" font-size="15.0" text-anchor="end">ITL6GL5</text>
<line x1="614.26" y1="1784.00" x2="614.26" y2="1789.80" stroke="#333333" stroke-width="1.6"/>
<text transform="translate(618.76 1795.80) rotate(-90)" font-size="15.0" text-anchor="end">ITL6GL4</text>
<line x1="635.76" y1="1784.00" x2="635.76" y2="1789.80" stroke="#333333" stroke-width="1.6"/>
<text transform="translate(640.26 1795.80) rotate(-90)" font-size="15.0" text-anchor="end">ITL6GL3</text>
<line x1="657.27" y1="1784.00" x2="657.27" y2="1789.80" stroke="#333333" stroke-width="1.6"/>
<text transform="translate(661.77 1795.80) rotate(-90)" font-size="15.0" text-anchor="end">ITL6GL2</text>
<line x1="678.77" y1="1784.00" x2="678.77" y2="1789.80" stroke="#333333" stroke-width="1.6"/>
<text transform="translate(683.27 1795.80) rotate(-90)" font-size="15.0" text-anchor="end">ITL6GL1</text>
<line x1="700.28" y1="1784.00" x2="700.28" y2="1789.80" stroke="#333333" stroke-width="1.6"/>
<text transform="translate(704.78 1795.80) rotate(-90)" font-size="15.0" text-anchor="end">ITL5GL3</text>
<line x1="721.79" y1="1784.00" x2="721.79" y2="1789.80" stroke="#333333" stroke-width="1.6"/>
<text transform="translate(726.29 1795.80) rotate(-90)" font-size="15.0" text-anchor="end">ITL5GL2</text>
<line x1="743.29" y1="1784.00" x2="743.29" y2="1789.80" stroke="#333333" stroke-width="1.6"/>
<text transform="translate(747.79 1795.80) rotate(-90)" font-size="15.0" text-anchor="end">ITL5GL1</text>
<line x1="764.80" y1="1784.00" x2="764.80" y2="1789.80" stroke="#333333" stroke-width="1.6"/>
<text transform="translate(769.30 1795.80) rotate(-90)" font-size="15.0" text-anchor="end">ITL4GL2</text>
<line x1="786.30" y1="1784.00" x2="786.30" y2="1789.80" stroke="#333333" stroke-width="1.6"/>
<text transform="translate(790.80 1795.80) rotate(-90)" font-size="15.0" text-anchor="end">ITL4GL1</text>
<line x1="807.81" y1="1784.00" x2="807.81" y2="1789.80" stroke="#333333" stroke-width="1.6"/>
<text transform="translate(812.31 1795.80) rotate(-90)" font-size="15.0" text-anchor="end">ITL23GL3</text>
<line x1="829.32" y1="1784.00" x2="829.32" y2="1789.80" stroke="#333333" stroke-width="1.6"/>
<text transform="translate(833.82 1795.80) rotate(-90)" font-size="15.0" text-anchor="end">ITL23GL2</text>
<line x1="850.82" y1="1784.00" x2="850.82" y2="1789.80" stroke="#333333" stroke-width="1.6"/>
<text transform="translate(855.32 1795.80) rotate(-90)" font-size="15.0" text-anchor="end">ITL23GL1</text>
<line x1="872.33" y1="1784.00" x2="872.33" y2="1789.80" stroke="#333333" stroke-width="1.6"/>
<text transform="translate(876.83 1795.80) rotate(-90)" font-size="15.0" text-anchor="end">DGGR</text>
<line x1="893.83" y1="1784.00" x2="893.83" y2="1789.80" stroke="#333333" stroke-width="1.6"/>
<text transform="translate(898.33 1795.80) rotate(-90)" font-size="15.0" text-anchor="end">CTGL6</text>
<line x1="915.34" y1="1784.00" x2="915.34" y2="1789.80" stroke="#333333" stroke-width="1.6"/>
<text transform="translate(919.84 1795.80) rotate(-90)" font-size="15.0" text-anchor="end">CTGL5</text>
<line x1="936.85" y1="1784.00" x2="936.85" y2="1789.80" stroke="#333333" stroke-width="1.6"/>
<text transform="translate(941.35 1795.80) rotate(-90)" font-size="15.0" text-anchor="end">CTGL4</text>
<line x1="958.35" y1="1784.00" x2="958.35" y2="1789.80" stroke="#333333" stroke-width="1.6"/>
<text transform="translate(962.85 1795.80) rotate(-90)" font-size="15.0" text-anchor="end">CTGL3</text>
<line x1="979.86" y1="1784.00" x2="979.86" y2="1789.80" stroke="#333333" stroke-width="1.6"/>
<text transform="translate(984.36 1795.80) rotate(-90)" font-size="15.0" text-anchor="end">CTGL2</text>
<line x1="1001.36" y1="1784.00" x2="1001.36" y2="1789.80" stroke="#333333" stroke-width="1.6"/>
<text transform="translate(1005.86 1795.80) rotate(-90)" font-size="15.0" text-anchor="end">CTGL1</text>
<line x1="1022.87" y1="1784.00" x2="1022.87" y2="1789.80" stroke="#333333" stroke-width="1.6"/>
<text transform="translate(1027.37 1795.80) rotate(-90)" font-size="15.0" text-anchor="end">CLAGL1</text>
<line x1="1044.38" y1="1784.00" x2="1044.38" y2="1789.80" stroke="#333333" stroke-width="1.6"/>
<text transform="translate(1048.88 1795.80) rotate(-90)" font-size="15.0" text-anchor="end">CA3GL1</text>
<line x1="1065.88" y1="1784.00" x2="1065.88" y2="1789.80" stroke="#333333" stroke-width="1.6"/>
<text transform="translate(1070.38 1795.80) rotate(-90)" font-size="15.0" text-anchor="end">VIPGA4</text>
<line x1="1087.39" y1="1784.00" x2="1087.39" y2="1789.80" stroke="#333333" stroke-width="1.6"/>
<text transform="translate(1091.89 1795.80) rotate(-90)" font-size="15.0" text-anchor="end">VIPGA3</text>
<line x1="1108.89" y1="1784.00" x2="1108.89" y2="1789.80" stroke="#333333" stroke-width="1.6"/>
<text transform="translate(1113.39 1795.80) rotate(-90)" font-size="15.0" text-anchor="end">VIPGA2</text>
<line x1="1130.40" y1="1784.00" x2="1130.40" y2="1789.80" stroke="#333333" stroke-width="1.6"/>
<text transform="translate(1134.90 1795.80) rotate(-90)" font-size="15.0" text-anchor="end">VIPGA1</text>
<line x1="1151.91" y1="1784.00" x2="1151.91" y2="1789.80" stroke="#333333" stroke-width="1.6"/>
<text transform="translate(1156.41 1795.80) rotate(-90)" font-size="15.0" text-anchor="end">STRGA5</text>
<line x1="1173.41" y1="1784.00" x2="1173.41" y2="1789.80" stroke="#333333" stroke-width="1.6"/>
<text transform="translate(1177.91 1795.80) rotate(-90)" font-size="15.0" text-anchor="end">STRGA2</text>
<line x1="1194.92" y1="1784.00" x2="1194.92" y2="1789.80" stroke="#333333" stroke-width="1.6"/>
<text transform="translate(1199.42 1795.80) rotate(-90)" font-size="15.0" text-anchor="end">STRGA1</text>
<line x1="1216.42" y1="1784.00" x2="1216.42" y2="1789.80" stroke="#333333" stroke-width="1.6"/>
<text transform="translate(1220.92 1795.80) rotate(-90)" font-size="15.0" text-anchor="end">SSTGA9</text>
<line x1="1237.93" y1="1784.00" x2="1237.93" y2="1789.80" stroke="#333333" stroke-width="1.6"/>
<text transform="translate(1242.43 1795.80) rotate(-90)" font-size="15.0" text-anchor="end">SSTGA8</text>
<line x1="1259.44" y1="1784.00" x2="1259.44" y2="1789.80" stroke="#333333" stroke-width="1.6"/>
<text transform="translate(1263.94 1795.80) rotate(-90)" font-size="15.0" text-anchor="end">SSTGA7</text>
<line x1="1280.94" y1="1784.00" x2="1280.94" y2="1789.80" stroke="#333333" stroke-width="1.6"/>
<text transform="translate(1285.44 1795.80) rotate(-90)" font-size="15.0" text-anchor="end">SSTGA5</text>
<line x1="1302.45" y1="1784.00" x2="1302.45" y2="1789.80" stroke="#333333" stroke-width="1.6"/>
<text transform="translate(1306.95 1795.80) rotate(-90)" font-size="15.0" text-anchor="end">SSTGA4</text>
<line x1="1323.95" y1="1784.00" x2="1323.95" y2="1789.80" stroke="#333333" stroke-width="1.6"/>
<text transform="translate(1328.45 1795.80) rotate(-90)" font-size="15.0" text-anchor="end">SSTGA3</text>
<line x1="1345.46" y1="1784.00" x2="1345.46" y2="1789.80" stroke="#333333" stroke-width="1.6"/>
<text transform="translate(1349.96 1795.80) rotate(-90)" font-size="15.0" text-anchor="end">SSTGA2</text>
<line x1="1366.97" y1="1784.00" x2="1366.97" y2="1789.80" stroke="#333333" stroke-width="1.6"/>
<text transform="translate(1371.47 1795.80) rotate(-90)" font-size="15.0" text-anchor="end">SSTGA1</text>
<line x1="1388.47" y1="1784.00" x2="1388.47" y2="1789.80" stroke="#333333" stroke-width="1.6"/>
<text transform="translate(1392.97 1795.80) rotate(-90)" font-size="15.0" text-anchor="end">PVGA5</text>
<line x1="1409.98" y1="1784.00" x2="1409.98" y2="1789.80" stroke="#333333" stroke-width="1.6"/>
<text transform="translate(1414.48 1795.80) rotate(-90)" font-size="15.0" text-anchor="end">PVGA4</text>
<line x1="1431.48" y1="1784.00" x2="1431.48" y2="1789.80" stroke="#333333" stroke-width="1.6"/>
<text transform="translate(1435.98 1795.80) rotate(-90)" font-size="15.0" text-anchor="end">PVGA2</text>
<line x1="1452.99" y1="1784.00" x2="1452.99" y2="1789.80" stroke="#333333" stroke-width="1.6"/>
<text transform="translate(1457.49 1795.80) rotate(-90)" font-size="15.0" text-anchor="end">PVGA1</text>
<line x1="1474.50" y1="1784.00" x2="1474.50" y2="1789.80" stroke="#333333" stroke-width="1.6"/>
<text transform="translate(1479.00 1795.80) rotate(-90)" font-size="15.0" text-anchor="end">OBGA2</text>
<line x1="1496.00" y1="1784.00" x2="1496.00" y2="1789.80" stroke="#333333" stroke-width="1.6"/>
<text transform="translate(1500.50 1795.80) rotate(-90)" font-size="15.0" text-anchor="end">OBGA1</text>
<line x1="1517.51" y1="1784.00" x2="1517.51" y2="1789.80" stroke="#333333" stroke-width="1.6"/>
<text transform="translate(1522.01 1795.80) rotate(-90)" font-size="15.0" text-anchor="end">MXD</text>
<line x1="1539.01" y1="1784.00" x2="1539.01" y2="1789.80" stroke="#333333" stroke-width="1.6"/>
<text transform="translate(1543.51 1795.80) rotate(-90)" font-size="15.0" text-anchor="end">MSGA7</text>
<line x1="1560.52" y1="1784.00" x2="1560.52" y2="1789.80" stroke="#333333" stroke-width="1.6"/>
<text transform="translate(1565.02 1795.80) rotate(-90)" font-size="15.0" text-anchor="end">MSGA4</text>
<line x1="1582.03" y1="1784.00" x2="1582.03" y2="1789.80" stroke="#333333" stroke-width="1.6"/>
<text transform="translate(1586.53 1795.80) rotate(-90)" font-size="15.0" text-anchor="end">MSGA2</text>
<line x1="1603.53" y1="1784.00" x2="1603.53" y2="1789.80" stroke="#333333" stroke-width="1.6"/>
<text transform="translate(1608.03 1795.80) rotate(-90)" font-size="15.0" text-anchor="end">MSGA1</text>
<line x1="1625.04" y1="1784.00" x2="1625.04" y2="1789.80" stroke="#333333" stroke-width="1.6"/>
<text transform="translate(1629.54 1795.80) rotate(-90)" font-size="15.0" text-anchor="end">MSGA10</text>
<line x1="1646.54" y1="1784.00" x2="1646.54" y2="1789.80" stroke="#333333" stroke-width="1.6"/>
<text transform="translate(1651.04 1795.80) rotate(-90)" font-size="15.0" text-anchor="end">LSXGA2</text>
<line x1="1668.05" y1="1784.00" x2="1668.05" y2="1789.80" stroke="#333333" stroke-width="1.6"/>
<text transform="translate(1672.55 1795.80) rotate(-90)" font-size="15.0" text-anchor="end">LAMGA4</text>
<line x1="1689.56" y1="1784.00" x2="1689.56" y2="1789.80" stroke="#333333" stroke-width="1.6"/>
<text transform="translate(1694.06 1795.80) rotate(-90)" font-size="15.0" text-anchor="end">LAMGA3</text>
<line x1="1711.06" y1="1784.00" x2="1711.06" y2="1789.80" stroke="#333333" stroke-width="1.6"/>
<text transform="translate(1715.56 1795.80) rotate(-90)" font-size="15.0" text-anchor="end">LAMGA2</text>
<line x1="1732.57" y1="1784.00" x2="1732.57" y2="1789.80" stroke="#333333" stroke-width="1.6"/>
<text transform="translate(1737.07 1795.80) rotate(-90)" font-size="15.0" text-anchor="end">D2MSN4</text>
<line x1="1754.07" y1="1784.00" x2="1754.07" y2="1789.80" stroke="#333333" stroke-width="1.6"/>
<text transform="translate(1758.57 1795.80) rotate(-90)" font-size="15.0" text-anchor="end">D2MSN2</text>
<line x1="1775.58" y1="1784.00" x2="1775.58" y2="1789.80" stroke="#333333" stroke-width="1.6"/>
<text transform="translate(1780.08 1795.80) rotate(-90)" font-size="15.0" text-anchor="end">D2MSN1</text>
<line x1="1797.09" y1="1784.00" x2="1797.09" y2="1789.80" stroke="#333333" stroke-width="1.6"/>
<text transform="translate(1801.59 1795.80) rotate(-90)" font-size="15.0" text-anchor="end">D1MSN5</text>
<line x1="1818.59" y1="1784.00" x2="1818.59" y2="1789.80" stroke="#333333" stroke-width="1.6"/>
<text transform="translate(1823.09 1795.80) rotate(-90)" font-size="15.0" text-anchor="end">D1MSN4</text>
<line x1="1840.10" y1="1784.00" x2="1840.10" y2="1789.80" stroke="#333333" stroke-width="1.6"/>
<text transform="translate(1844.60 1795.80) rotate(-90)" font-size="15.0" text-anchor="end">D1MSN3</text>
<line x1="1861.60" y1="1784.00" x2="1861.60" y2="1789.80" stroke="#333333" stroke-width="1.6"/>
<text transform="translate(1866.10 1795.80) rotate(-90)" font-size="15.0" text-anchor="end">D1MSN2</text>
<line x1="1883.11" y1="1784.00" x2="1883.11" y2="1789.80" stroke="#333333" stroke-width="1.6"/>
<text transform="translate(1887.61 1795.80) rotate(-90)" font-size="15.0" text-anchor="end">D1MSN1</text>
<text x="989.20" y="1894.60" font-size="30" text-anchor="middle">Cell type</text>
<text transform="translate(24.90 1527.50) rotate(-90)" font-size="30" text-anchor="middle">Sub Region</text>
<text transform="translate(2019.50 1725.80) rotate(-90)" font-size="26.0" text-anchor="middle"># of differential  cCREs</text>
<text transform="translate(2052.30 1722.00) rotate(-90)" font-size="26.5" text-anchor="middle">(log<tspan font-size="16.5" dy="7">10</tspan><tspan dy="-7">)</tspan></text>
<rect x="2086.50" y="1681.30" width="1.60" height="1.60" fill="#0a0a0a"/>
<text x="2113.60" y="1687.70" font-size="13.4">1</text>
<rect x="2080.75" y="1707.75" width="13.10" height="13.10" fill="#0a0a0a"/>
<text x="2113.60" y="1720.10" font-size="13.4">2</text>
<rect x="2078.40" y="1737.30" width="17.80" height="17.80" fill="#0a0a0a"/>
<text x="2113.60" y="1752.00" font-size="13.4">3</text>
</g>
</svg>
</body></html>
